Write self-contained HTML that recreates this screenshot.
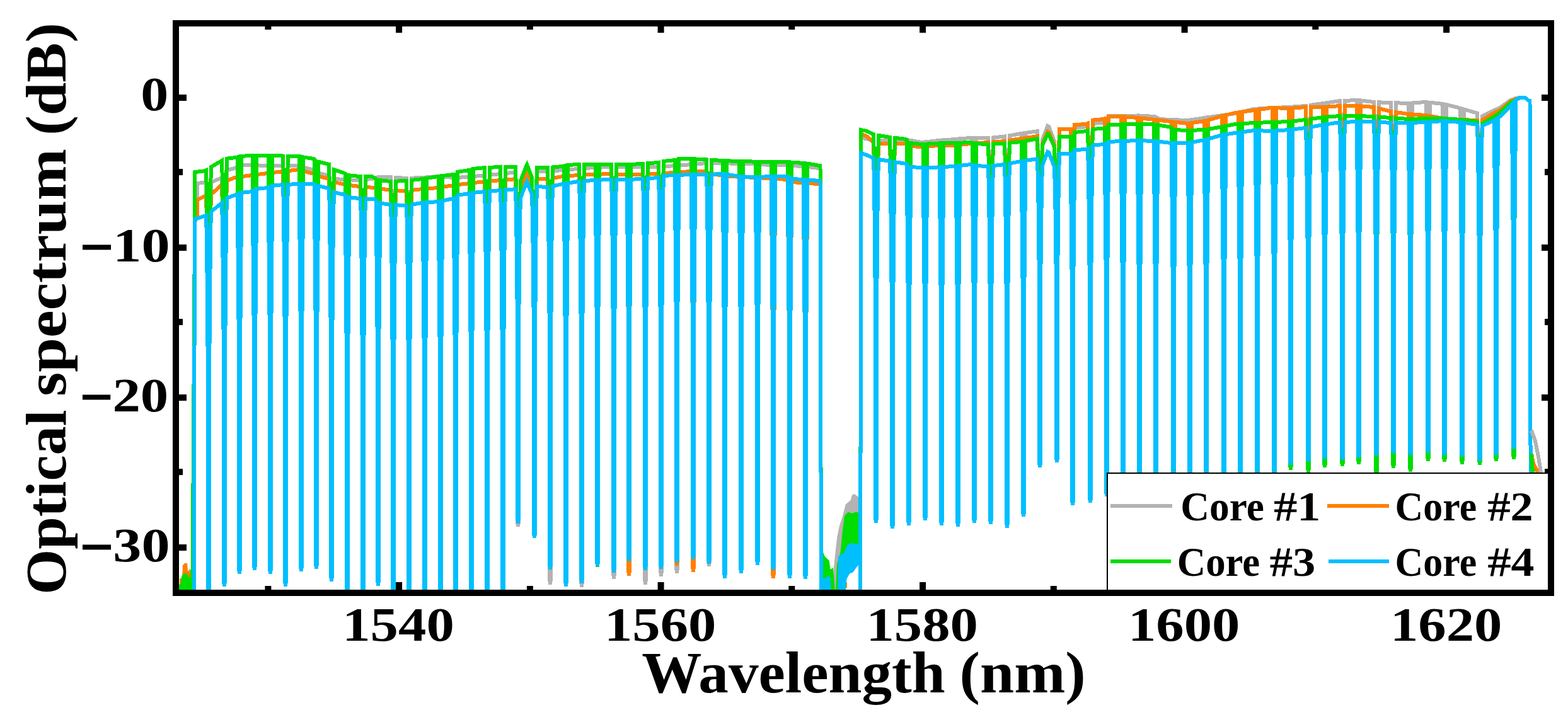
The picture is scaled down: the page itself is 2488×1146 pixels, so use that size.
<!DOCTYPE html>
<html><head><meta charset="utf-8"><title>Optical spectrum</title><style>html,body{margin:0;padding:0;background:#fff;}svg{display:block;}</style></head><body>
<svg width="2488" height="1146" viewBox="0 0 2488 1146">
<rect width="2488" height="1146" fill="#fff"/>
<defs><clipPath id="pc"><rect x="284" y="42" width="2172" height="894"/></clipPath></defs>
<g clip-path="url(#pc)">
<polygon points="1323,940 1323,901 1325.6,876 1328.3,852.7 1331.9,834.8 1337.2,818.7 1341.7,800.8 1349.8,793.7 1351.6,786.5 1355,783.8 1361.4,788.3 1363,792 1363,880 1352,905 1343,918 1341,940" fill="#b3b3b3"/>
<polygon points="299,906 301,902 303,906 303,940 299,940" fill="#b3b3b3"/>
<polygon points="285,940 285,918 289,918 290,897 293,894 297,894 298,906 301,906 303,915 303,940" fill="#ff8000"/>
<polygon points="1342,924 1344,924 1344,933 1342,933" fill="#ff8000"/>
<polygon points="1343,903 1345,903 1345,910 1343,910" fill="#ff8000"/>
<polygon points="1360,858 1362,858 1362,864 1360,864" fill="#ff8000"/>
<polygon points="284,940 284,928 287,926 288,915 290,912 293,910 296,910 298,913 301,917 304,920 304,940" fill="#00dd00"/>
<polygon points="1304,940 1304,876 1306,876 1308.6,883 1315.8,890 1317.6,903.7 1322,901 1323,912 1325,940" fill="#00dd00"/>
<polygon points="1326,940 1328,895.6 1332,883 1333.7,876 1336.4,847 1340,818.7 1346,812.5 1351.6,815 1358.7,812.5 1363,814 1363,880 1352,905 1343,918 1341,940" fill="#00dd00"/>
<polygon points="1304,940 1304,919 1306.8,919 1315.8,913.5 1317.6,919 1319,940" fill="#00bfff"/>
<polygon points="1329,940 1330,883 1339,877.7 1344.4,865 1351.6,861.6 1358.7,863.4 1364,865 1366,892 1358.7,901 1353,909 1348,910 1343.5,919 1341.7,940" fill="#00bfff"/>
<g fill="none" stroke-width="6.0" stroke-linejoin="miter" stroke-miterlimit="3" shape-rendering="crispEdges">
<path d="M307.5,975.0 L309.0,352.0 L313.0,345.0 L313.0,290.8 L315.0,290.6 L317.0,290.5 L319.0,290.4 L321.0,290.3 L323.0,290.2 L325.0,290.1 L326.8,289.9 L327.7,313.9 L328.0,378.4 L328.8,392.0 L329.0,501.0 L329.8,521.5 L330.0,960.8 L331.0,971.0 L332.0,960.8 L332.2,520.5 L333.0,500.1 L333.2,390.8 L334.0,377.2 L334.3,312.5 L335.2,288.5 L337.2,288.1 L339.2,287.5 L341.2,286.6 L343.2,285.8 L345.2,284.9 L347.2,284.1 L349.2,283.2 L351.2,282.3 L351.8,282.1 L352.7,306.1 L353.0,365.9 L353.8,378.8 L354.0,482.0 L354.8,501.4 L355.0,917.3 L356.0,927.0 L357.0,917.2 L357.2,494.8 L358.0,475.2 L358.2,370.4 L359.0,357.3 L359.3,296.2 L360.2,272.2 L362.2,269.9 L364.2,269.3 L366.2,268.7 L368.2,268.1 L370.2,267.5 L372.2,266.9 L374.2,266.2 L376.7,265.3 L376.7,289.3 L377.0,348.7 L377.8,361.6 L378.0,464.2 L378.8,483.5 L379.0,897.4 L380.0,907.0 L381.0,897.3 L381.2,481.9 L382.0,462.6 L382.2,359.6 L383.0,346.7 L383.3,287.0 L383.3,263.0 L385.3,262.2 L387.3,262.0 L389.3,262.0 L391.3,262.0 L393.3,262.0 L395.3,262.0 L397.3,262.0 L399.3,262.0 L400.7,262.0 L400.7,286.0 L401.0,345.1 L401.8,357.9 L402.0,460.1 L402.8,479.3 L403.0,891.4 L404.0,901.0 L405.0,891.4 L405.2,479.5 L406.0,460.3 L406.2,358.1 L407.0,345.3 L407.3,286.3 L407.3,262.3 L409.3,262.4 L411.3,262.5 L413.3,262.5 L415.3,262.6 L417.3,262.7 L419.3,262.8 L421.3,262.9 L423.3,262.9 L425.7,263.0 L425.7,287.0 L426.0,346.7 L426.8,359.6 L427.0,462.6 L427.8,482.0 L428.0,897.3 L429.0,907.0 L430.0,897.3 L430.2,482.0 L431.0,462.6 L431.2,359.6 L432.0,346.7 L432.3,287.0 L432.3,263.0 L434.3,263.0 L436.3,263.0 L438.3,263.0 L440.3,263.0 L442.3,263.0 L444.3,263.0 L446.3,263.0 L448.8,263.0 L449.7,287.0 L450.0,349.3 L450.8,362.6 L451.0,468.8 L451.8,488.8 L452.0,917.0 L453.0,927.0 L454.0,917.0 L454.2,488.8 L455.0,468.8 L455.2,362.6 L456.0,349.3 L456.3,287.0 L457.2,263.0 L459.2,263.0 L461.2,263.0 L463.2,263.0 L465.2,263.0 L467.2,263.0 L469.2,263.0 L471.2,263.0 L473.2,263.0 L474.7,263.0 L474.7,287.0 L475.0,346.2 L475.8,359.0 L476.0,461.4 L476.8,480.6 L477.0,893.4 L478.0,903.0 L479.0,893.4 L479.2,482.2 L480.0,463.0 L480.2,361.0 L481.0,348.3 L481.3,289.4 L481.3,265.4 L483.3,266.1 L485.3,266.6 L487.3,267.1 L489.3,267.7 L491.3,268.2 L493.3,268.7 L495.3,269.3 L497.3,269.8 L498.7,270.4 L498.7,294.4 L499.0,352.1 L499.8,364.7 L500.0,465.3 L500.8,484.1 L501.0,889.6 L502.0,899.0 L503.0,889.6 L503.2,486.5 L504.0,467.8 L504.2,367.8 L505.0,355.3 L505.3,298.1 L505.3,274.1 L507.3,275.1 L509.3,275.6 L511.3,276.1 L513.3,276.7 L515.3,277.2 L517.3,277.7 L519.3,278.3 L521.8,278.9 L522.7,302.9 L523.0,362.2 L523.8,375.0 L524.0,477.4 L524.8,496.6 L525.0,909.4 L526.0,919.0 L527.0,909.5 L527.2,499.6 L528.0,480.5 L528.2,378.9 L529.0,366.2 L529.3,307.6 L530.2,283.6 L532.2,284.1 L534.2,284.2 L536.2,284.3 L538.2,284.4 L540.2,284.6 L542.2,284.7 L544.2,284.8 L546.2,284.9 L547.7,285.0 L547.7,309.0 L548.0,374.2 L548.8,387.9 L549.0,497.7 L549.8,518.3 L550.0,960.7 L551.0,971.0 L552.0,960.7 L552.2,518.4 L553.0,497.9 L553.2,388.2 L554.0,374.5 L554.3,309.3 L554.3,285.3 L556.3,285.4 L558.3,285.5 L560.3,285.6 L562.3,285.7 L564.3,285.8 L566.3,285.8 L568.3,285.9 L570.3,286.0 L571.8,285.8 L572.7,309.8 L573.0,374.9 L573.8,388.6 L574.0,498.2 L574.8,518.8 L575.0,960.7 L576.0,971.0 L577.0,960.7 L577.2,518.2 L578.0,497.6 L578.2,387.9 L579.0,374.2 L579.3,309.0 L580.2,285.0 L582.2,284.8 L584.2,284.6 L586.2,284.4 L588.2,284.2 L590.2,283.9 L592.2,283.3 L594.2,282.7 L596.7,282.0 L596.7,306.0 L597.0,365.6 L597.8,378.5 L598.0,481.5 L598.8,500.8 L599.0,915.8 L600.0,925.5 L601.0,915.8 L601.2,500.1 L602.0,480.8 L602.2,377.7 L603.0,364.8 L603.3,305.0 L603.3,281.0 L605.3,281.0 L607.3,281.0 L609.3,281.0 L611.3,281.0 L613.3,281.0 L615.3,281.0 L617.3,281.0 L619.8,281.0 L620.7,305.0 L621.0,370.7 L621.8,384.5 L622.0,494.9 L622.8,515.6 L623.0,960.6 L624.0,971.0 L625.0,960.7 L625.2,516.0 L626.0,495.4 L626.2,385.1 L627.0,371.3 L627.3,305.7 L628.2,281.7 L630.2,281.8 L632.2,282.0 L634.2,282.1 L636.2,282.3 L638.2,282.5 L640.2,282.6 L642.2,282.8 L644.2,282.9 L644.8,283.0 L645.7,307.0 L646.0,372.4 L646.8,386.2 L647.0,496.3 L647.8,516.9 L648.0,960.7 L649.0,971.0 L650.0,960.7 L650.2,516.7 L651.0,496.1 L651.2,385.9 L652.0,372.2 L652.3,306.7 L653.2,282.7 L655.2,282.6 L657.2,282.5 L659.2,282.4 L661.2,282.4 L663.2,282.3 L665.2,282.2 L667.2,282.1 L669.2,282.0 L670.7,281.9 L670.7,305.9 L671.0,371.5 L671.8,385.3 L672.0,495.6 L672.8,516.2 L673.0,960.7 L674.0,971.0 L675.0,960.7 L675.2,515.9 L676.0,495.2 L676.2,384.9 L677.0,371.1 L677.3,305.4 L677.3,281.4 L679.3,281.3 L681.3,281.1 L683.3,280.9 L685.3,280.8 L687.3,280.6 L689.3,280.5 L691.3,280.3 L693.3,280.1 L695.7,280.1 L695.7,304.1 L696.0,369.9 L696.8,383.7 L697.0,494.2 L697.8,515.0 L698.0,960.6 L699.0,971.0 L700.0,960.6 L700.2,515.3 L701.0,494.6 L701.2,384.1 L702.0,370.3 L702.3,304.6 L702.3,280.6 L704.3,280.7 L706.3,280.9 L708.3,281.1 L710.3,281.2 L712.3,281.4 L714.3,281.5 L716.3,281.7 L718.3,281.9 L719.7,282.0 L719.7,306.0 L720.0,371.5 L720.8,385.3 L721.0,495.6 L721.8,516.2 L722.0,960.7 L723.0,971.0 L724.0,960.7 L724.2,516.1 L725.0,495.4 L725.2,385.1 L726.0,371.4 L726.3,305.7 L726.3,281.7 L728.3,281.7 L730.3,281.6 L732.3,281.5 L734.3,281.4 L736.3,281.3 L738.3,281.3 L740.3,281.2 L742.3,281.1 L744.7,281.0 L744.7,305.0 L745.0,370.7 L745.8,384.5 L746.0,494.9 L746.8,515.6 L747.0,960.7 L748.0,971.0 L749.0,960.6 L749.2,515.1 L750.0,494.4 L750.2,383.9 L751.0,370.0 L751.3,304.2 L751.3,280.2 L753.3,280.0 L755.3,279.8 L757.3,279.5 L759.3,279.3 L761.3,279.0 L763.3,278.8 L765.3,278.6 L767.3,278.3 L768.8,278.1 L769.7,302.1 L770.0,368.2 L770.8,382.1 L771.0,492.9 L771.8,513.7 L772.0,960.6 L773.0,971.0 L774.0,960.6 L774.2,513.2 L775.0,492.4 L775.2,381.5 L776.0,367.6 L776.3,301.4 L777.2,277.4 L779.2,277.3 L781.2,277.1 L783.2,276.9 L785.2,276.8 L787.2,276.6 L789.2,276.5 L791.2,276.3 L793.2,276.1 L793.8,276.1 L794.7,300.1 L795.0,366.4 L795.8,380.3 L796.0,491.5 L796.8,512.4 L797.0,960.6 L798.0,971.0 L799.0,960.6 L799.2,511.7 L800.0,490.9 L800.2,379.5 L801.0,365.6 L801.3,299.1 L802.2,275.1 L804.2,274.9 L806.2,274.7 L808.2,274.4 L810.2,274.2 L812.2,273.9 L814.2,273.7 L816.2,273.5 L817.8,273.3 L818.7,297.3 L819.0,346.4 L819.8,357.7 L820.0,447.7 L820.8,464.6 L821.0,827.6 L822.0,836.0 L823.0,827.8 L823.2,476.6 L824.0,460.3 L824.2,373.2 L825.0,362.3 L825.3,315.5 L826.2,291.5 L828.2,286.7 L830.2,281.9 L832.2,277.1 L834.2,272.3 L836.2,268.5 L838.2,273.3 L840.2,278.1 L842.2,282.9 L843.8,286.7 L844.7,310.7 L845.0,359.9 L845.8,371.2 L846.0,461.3 L846.8,478.2 L847.0,841.6 L848.0,850.0 L849.0,841.3 L849.2,468.8 L850.0,451.4 L850.2,359.0 L851.0,347.4 L851.3,296.4 L852.2,272.4 L854.2,272.3 L856.2,272.3 L858.2,272.2 L860.2,272.2 L862.2,272.2 L864.2,272.1 L866.2,272.1 L868.2,272.0 L868.8,272.0 L869.7,296.0 L870.0,357.3 L870.8,370.4 L871.0,475.4 L871.8,495.1 L872.0,918.2 L873.0,928.0 L874.0,918.2 L874.2,494.6 L875.0,474.9 L875.2,369.9 L876.0,356.7 L876.3,295.4 L877.2,271.4 L879.2,271.2 L881.2,271.0 L883.2,270.9 L885.2,270.7 L887.2,270.5 L889.2,270.3 L891.2,270.2 L893.2,270.0 L894.7,269.9 L894.7,293.9 L895.0,355.3 L895.8,368.4 L896.0,473.6 L896.8,493.3 L897.0,917.1 L898.0,927.0 L899.0,917.1 L899.2,492.9 L900.0,473.2 L900.2,368.0 L901.0,354.8 L901.3,293.3 L901.3,269.3 L903.3,269.2 L905.3,269.0 L907.3,268.9 L909.3,268.7 L911.3,268.5 L913.3,268.4 L915.3,268.2 L917.3,268.1 L918.8,267.9 L919.7,291.9 L920.0,354.3 L920.8,367.5 L921.0,473.8 L921.8,493.7 L922.0,922.0 L923.0,932.0 L924.0,922.0 L924.2,493.3 L925.0,473.3 L925.2,366.9 L926.0,353.7 L926.3,291.2 L927.2,267.2 L929.2,267.1 L931.2,266.9 L933.2,266.7 L935.2,266.6 L937.2,266.4 L939.2,266.2 L941.2,266.1 L943.2,266.0 L944.7,265.9 L944.7,289.9 L945.0,347.7 L945.8,360.3 L946.0,460.9 L946.8,479.8 L947.0,885.6 L948.0,895.0 L949.0,885.6 L949.2,479.6 L950.0,460.7 L950.2,360.0 L951.0,347.5 L951.3,289.6 L951.3,265.6 L953.3,265.6 L955.3,265.5 L957.3,265.4 L959.3,265.3 L961.3,265.3 L963.3,265.2 L965.3,265.1 L967.3,265.0 L969.8,265.0 L970.7,289.0 L971.0,350.0 L971.8,363.1 L972.0,467.7 L972.8,487.4 L973.0,909.2 L974.0,919.0 L975.0,909.2 L975.2,487.4 L976.0,467.7 L976.2,363.1 L977.0,350.0 L977.3,289.0 L978.2,265.0 L980.2,265.0 L982.2,265.0 L984.2,265.0 L986.2,265.0 L988.2,265.0 L990.2,265.0 L992.2,265.0 L994.7,265.0 L994.7,289.0 L995.0,345.9 L995.8,358.3 L996.0,457.8 L996.8,476.5 L997.0,877.7 L998.0,887.0 L999.0,877.7 L999.2,476.5 L1000.0,457.8 L1000.2,358.3 L1001.0,345.9 L1001.3,289.0 L1001.3,265.0 L1003.3,265.0 L1005.3,265.0 L1007.3,265.0 L1009.3,265.0 L1011.3,265.0 L1013.3,265.0 L1015.3,265.0 L1017.3,265.0 L1019.8,265.0 L1020.7,289.0 L1021.0,351.2 L1021.8,364.4 L1022.0,470.5 L1022.8,490.4 L1023.0,918.1 L1024.0,928.0 L1025.0,918.1 L1025.2,490.4 L1026.0,470.5 L1026.2,364.4 L1027.0,351.2 L1027.3,289.0 L1028.2,265.0 L1030.2,265.0 L1032.2,265.0 L1034.2,265.0 L1036.2,265.0 L1038.2,265.0 L1040.2,265.0 L1042.2,265.0 L1044.2,265.0 L1044.8,265.0 L1045.7,289.0 L1046.0,349.5 L1046.8,362.5 L1047.0,466.5 L1047.8,486.0 L1048.0,905.2 L1049.0,915.0 L1050.0,905.2 L1050.2,485.6 L1051.0,466.1 L1051.2,362.0 L1052.0,349.0 L1052.3,288.4 L1053.2,264.4 L1055.2,264.2 L1057.2,264.1 L1059.2,263.9 L1061.2,263.8 L1063.2,263.7 L1065.2,263.5 L1067.2,263.4 L1069.2,263.2 L1070.7,263.1 L1070.7,287.1 L1071.0,347.1 L1071.8,360.1 L1072.0,463.5 L1072.8,482.9 L1073.0,899.8 L1074.0,909.5 L1075.0,899.8 L1075.2,482.5 L1076.0,463.1 L1076.2,359.6 L1077.0,346.7 L1077.3,286.6 L1077.3,262.6 L1079.3,262.4 L1081.3,262.3 L1083.3,262.1 L1085.3,261.9 L1087.3,261.8 L1089.3,261.6 L1091.3,261.5 L1093.3,261.3 L1095.3,261.1 L1096.7,261.0 L1096.7,285.0 L1097.0,342.0 L1097.8,354.5 L1098.0,454.1 L1098.8,472.8 L1099.0,874.7 L1100.0,884.0 L1101.0,874.6 L1101.2,472.5 L1102.0,453.8 L1102.2,354.0 L1103.0,341.6 L1103.3,284.5 L1103.3,260.5 L1105.3,260.3 L1107.3,260.2 L1109.3,260.0 L1111.3,259.9 L1113.3,259.7 L1115.3,259.5 L1117.3,259.4 L1119.3,259.2 L1120.8,259.1 L1121.7,283.1 L1122.0,342.3 L1122.8,355.1 L1123.0,457.5 L1123.8,476.7 L1124.0,889.5 L1125.0,899.1 L1126.0,889.5 L1126.2,476.6 L1127.0,457.4 L1127.2,355.0 L1128.0,342.2 L1128.3,283.0 L1129.2,259.0 L1131.2,259.0 L1133.2,259.0 L1135.2,259.0 L1137.2,259.0 L1139.2,259.0 L1141.2,259.0 L1143.2,259.0 L1145.2,259.0 L1146.7,259.0 L1146.7,283.0 L1147.0,344.1 L1147.8,357.2 L1148.0,462.1 L1148.8,481.7 L1149.0,904.2 L1150.0,914.0 L1151.0,904.2 L1151.2,481.9 L1152.0,462.2 L1152.2,357.5 L1153.0,344.4 L1153.3,283.2 L1153.3,259.2 L1155.3,259.3 L1157.3,259.4 L1159.3,259.5 L1161.3,259.6 L1163.3,259.7 L1165.3,259.8 L1167.3,259.9 L1169.3,260.0 L1171.3,260.0 L1172.7,260.0 L1172.7,284.0 L1173.0,343.9 L1173.8,356.8 L1174.0,460.1 L1174.8,479.5 L1175.0,895.9 L1176.0,905.6 L1177.0,895.9 L1177.2,479.5 L1178.0,460.1 L1178.2,356.8 L1179.0,343.9 L1179.3,284.0 L1179.3,260.0 L1181.3,260.0 L1183.3,260.0 L1185.3,260.0 L1187.3,260.0 L1189.3,260.0 L1191.3,260.0 L1193.3,260.0 L1195.3,260.0 L1197.3,260.2 L1198.7,260.3 L1198.7,284.3 L1199.0,342.5 L1199.8,355.1 L1200.0,456.3 L1200.8,475.3 L1201.0,883.2 L1202.0,892.7 L1203.0,883.2 L1203.2,475.6 L1204.0,456.7 L1204.2,355.6 L1205.0,342.9 L1205.3,284.8 L1205.3,260.8 L1207.3,260.9 L1209.3,261.1 L1211.3,261.2 L1213.3,261.4 L1215.3,261.5 L1217.3,261.7 L1219.3,261.8 L1221.3,261.9 L1223.7,262.0 L1223.7,286.0 L1224.0,345.1 L1224.8,357.9 L1225.0,460.1 L1225.8,479.3 L1226.0,891.4 L1227.0,901.0 L1228.0,891.4 L1228.2,479.3 L1229.0,460.1 L1229.2,357.9 L1230.0,345.1 L1230.3,286.0 L1230.3,262.0 L1232.3,262.0 L1234.3,262.0 L1236.3,262.0 L1238.3,262.0 L1240.3,262.0 L1242.3,262.0 L1244.3,262.0 L1246.3,262.0 L1248.3,262.0 L1249.7,262.1 L1249.7,286.1 L1250.0,346.9 L1250.8,359.9 L1251.0,464.2 L1251.8,483.8 L1252.0,904.2 L1253.0,914.0 L1254.0,904.2 L1254.2,484.2 L1255.0,464.6 L1255.2,360.4 L1256.0,347.4 L1256.3,286.7 L1256.3,262.7 L1258.3,262.9 L1260.3,263.1 L1262.3,263.3 L1264.3,263.4 L1266.3,263.6 L1268.3,263.8 L1270.3,264.0 L1272.3,264.1 L1274.7,264.4 L1274.7,288.4 L1275.0,348.9 L1275.8,362.0 L1276.0,466.1 L1276.8,485.6 L1277.0,905.2 L1278.0,915.0 L1279.0,905.2 L1279.2,486.0 L1280.0,466.5 L1280.2,362.4 L1281.0,349.4 L1281.3,288.9 L1281.3,264.9 L1283.3,265.1 L1285.3,265.4 L1287.3,265.6 L1289.3,265.8 L1291.3,266.0 L1293.3,266.3 L1295.3,266.5 L1297.3,266.7 L1299.3,266.9 L1301.3,267.0 L1301.5,267.0 L1303.0,975.0 M1365.0,975.0 L1366.5,218.1 L1368.5,218.7 L1370.5,219.2 L1372.5,219.7 L1374.5,220.2 L1376.5,220.8 L1378.5,221.3 L1380.5,221.8 L1382.5,222.3 L1384.5,222.9 L1385.8,223.0 L1386.7,247.0 L1387.0,301.3 L1387.8,313.4 L1388.0,409.8 L1388.8,427.9 L1389.0,816.7 L1390.0,825.7 L1391.0,816.7 L1391.2,427.8 L1392.0,409.7 L1392.2,313.3 L1393.0,301.2 L1393.3,246.8 L1394.2,222.8 L1396.2,222.8 L1398.2,222.8 L1400.2,222.7 L1402.2,222.7 L1404.2,222.7 L1406.2,222.6 L1408.2,222.6 L1410.2,222.5 L1411.8,222.5 L1412.7,246.5 L1413.0,302.1 L1413.8,314.4 L1414.0,412.4 L1414.8,430.8 L1415.0,825.8 L1416.0,835.0 L1417.0,825.8 L1417.2,430.7 L1418.0,412.3 L1418.2,314.3 L1419.0,302.0 L1419.3,246.4 L1420.2,222.4 L1422.2,222.3 L1424.2,222.3 L1426.2,222.3 L1428.2,222.2 L1430.2,222.2 L1432.2,222.1 L1434.2,222.1 L1436.2,222.1 L1438.7,222.0 L1438.7,246.0 L1439.0,301.0 L1439.8,313.1 L1440.0,410.3 L1440.8,428.6 L1441.0,820.4 L1442.0,829.5 L1443.0,820.4 L1443.2,429.2 L1444.0,411.0 L1444.2,313.9 L1445.0,301.8 L1445.3,247.0 L1445.3,223.0 L1447.3,223.3 L1449.3,223.7 L1451.3,224.1 L1453.3,224.4 L1455.3,224.8 L1457.3,225.1 L1459.3,225.5 L1461.3,225.9 L1463.3,225.9 L1464.7,225.7 L1464.7,249.7 L1465.0,303.2 L1465.8,315.2 L1466.0,410.6 L1466.8,428.4 L1467.0,813.1 L1468.0,822.0 L1469.0,813.0 L1469.2,428.0 L1470.0,410.1 L1470.2,314.6 L1471.0,302.6 L1471.3,249.0 L1471.3,225.0 L1473.3,224.8 L1475.3,224.6 L1477.3,224.4 L1479.3,224.1 L1481.3,223.9 L1483.3,223.7 L1485.3,223.5 L1487.3,223.3 L1489.3,223.1 L1490.7,222.9 L1490.7,246.9 L1491.0,301.8 L1491.8,313.9 L1492.0,411.0 L1492.8,429.2 L1493.0,820.4 L1494.0,829.5 L1495.0,820.4 L1495.2,428.8 L1496.0,410.6 L1496.2,313.5 L1497.0,301.3 L1497.3,246.4 L1497.3,222.4 L1499.3,222.3 L1501.3,222.1 L1503.3,221.9 L1505.3,221.8 L1507.3,221.6 L1509.3,221.5 L1511.3,221.3 L1513.3,221.1 L1515.3,221.0 L1516.7,220.9 L1516.7,244.9 L1517.0,300.2 L1517.8,312.5 L1518.0,410.2 L1518.8,428.5 L1519.0,822.3 L1520.0,831.5 L1521.0,822.3 L1521.2,428.1 L1522.0,409.8 L1522.2,312.0 L1523.0,299.8 L1523.3,244.3 L1523.3,220.3 L1525.3,220.2 L1527.3,220.0 L1529.3,219.9 L1531.3,219.7 L1533.3,219.5 L1535.3,219.4 L1537.3,219.2 L1539.3,219.1 L1541.3,219.0 L1542.7,219.0 L1542.7,243.0 L1543.0,297.9 L1543.8,310.1 L1544.0,407.2 L1544.8,425.4 L1545.0,816.9 L1546.0,826.0 L1547.0,816.9 L1547.2,425.4 L1548.0,407.2 L1548.2,310.1 L1549.0,297.9 L1549.3,243.0 L1549.3,219.0 L1551.3,219.0 L1553.3,219.0 L1555.3,219.0 L1557.3,219.0 L1559.3,219.0 L1561.3,219.0 L1563.3,219.0 L1565.3,219.0 L1567.8,219.0 L1568.7,243.0 L1569.0,298.1 L1569.8,310.3 L1570.0,407.7 L1570.8,425.9 L1571.0,818.5 L1572.0,827.6 L1573.0,818.5 L1573.2,425.5 L1574.0,407.2 L1574.2,309.8 L1575.0,297.6 L1575.3,242.4 L1576.2,218.4 L1578.2,218.2 L1580.2,218.0 L1582.2,217.8 L1584.2,217.6 L1586.2,217.4 L1588.2,217.2 L1590.2,217.0 L1592.2,216.8 L1593.8,216.6 L1594.7,240.6 L1595.0,296.8 L1595.8,309.1 L1596.0,407.8 L1596.8,426.3 L1597.0,824.1 L1598.0,833.4 L1599.0,824.1 L1599.2,425.4 L1600.0,406.8 L1600.2,307.9 L1601.0,295.6 L1601.3,239.2 L1602.2,215.2 L1604.2,214.8 L1606.2,214.5 L1608.2,214.1 L1610.2,213.8 L1612.2,213.4 L1614.2,213.0 L1616.2,212.7 L1618.2,212.3 L1620.7,211.9 L1620.7,235.9 L1621.0,290.4 L1621.8,302.5 L1622.0,399.2 L1622.8,417.3 L1623.0,806.9 L1624.0,816.0 L1625.0,806.9 L1625.2,416.7 L1626.0,398.5 L1626.2,301.7 L1627.0,289.6 L1627.3,235.0 L1627.3,211.0 L1629.3,210.7 L1631.3,210.4 L1633.3,210.1 L1635.3,209.8 L1637.3,209.5 L1639.3,209.2 L1641.3,209.0 L1643.3,208.7 L1645.8,208.3 L1646.7,232.3 L1647.0,277.1 L1647.8,287.7 L1648.0,372.3 L1648.8,388.2 L1649.0,729.5 L1650.0,737.4 L1651.0,729.7 L1651.2,396.5 L1652.0,381.0 L1652.2,298.4 L1653.0,288.0 L1653.3,244.9 L1654.2,220.9 L1656.2,215.7 L1658.2,210.5 L1660.2,205.3 L1662.2,200.1 L1664.2,201.1 L1666.2,206.3 L1668.2,211.5 L1670.2,216.7 L1672.2,221.9 L1672.8,223.5 L1673.7,247.5 L1674.0,289.3 L1674.8,299.4 L1675.0,380.4 L1675.8,395.6 L1676.0,722.1 L1677.0,729.7 L1678.0,721.8 L1678.2,383.4 L1679.0,367.7 L1679.2,283.7 L1680.0,273.2 L1680.3,229.0 L1681.2,205.0 L1683.2,205.0 L1685.2,205.0 L1687.2,205.0 L1689.2,205.0 L1691.2,205.0 L1693.2,205.0 L1695.2,205.0 L1697.2,205.0 L1698.7,205.0 L1698.7,229.0 L1699.0,282.1 L1699.8,293.9 L1700.0,388.8 L1700.8,406.6 L1701.0,789.1 L1702.0,798.0 L1703.0,789.1 L1703.2,405.3 L1704.0,387.4 L1704.2,292.2 L1705.0,280.3 L1705.3,227.0 L1705.3,203.0 L1707.3,202.8 L1709.3,202.6 L1711.3,202.4 L1713.3,202.2 L1715.3,202.0 L1717.3,201.8 L1719.3,201.6 L1721.3,201.4 L1723.3,201.2 L1725.8,200.2 L1726.7,224.2 L1727.0,277.4 L1727.8,289.3 L1728.0,384.3 L1728.8,402.1 L1729.0,785.1 L1730.0,794.0 L1731.0,785.0 L1731.2,399.2 L1732.0,381.2 L1732.2,285.5 L1733.0,273.6 L1733.3,219.8 L1734.2,195.8 L1736.2,195.7 L1738.2,195.6 L1740.2,195.5 L1742.2,195.4 L1744.2,195.4 L1746.2,195.3 L1748.2,195.2 L1750.2,195.1 L1752.7,193.7 L1752.7,217.7 L1753.0,270.4 L1753.8,282.2 L1754.0,376.5 L1754.8,394.2 L1755.0,774.7 L1756.0,783.5 L1757.0,774.5 L1757.2,387.8 L1758.0,369.8 L1758.2,273.9 L1759.0,261.9 L1759.3,208.0 L1759.3,184.0 L1761.3,184.0 L1763.3,184.0 L1765.3,184.0 L1767.3,184.0 L1769.3,184.0 L1771.3,184.0 L1773.3,184.0 L1775.3,184.0 L1777.3,184.0 L1778.7,184.0 L1778.7,208.0 L1779.0,264.9 L1779.8,277.3 L1780.0,376.8 L1780.8,395.5 L1781.0,796.7 L1782.0,806.0 L1783.0,796.7 L1783.2,395.4 L1784.0,376.7 L1784.2,277.2 L1785.0,264.8 L1785.3,207.9 L1785.3,183.9 L1787.3,183.9 L1789.3,183.8 L1791.3,183.8 L1793.3,183.7 L1795.3,183.7 L1797.3,183.7 L1799.3,183.6 L1801.3,183.6 L1803.3,183.6 L1804.7,183.5 L1804.7,207.5 L1805.0,265.7 L1805.8,278.4 L1806.0,379.6 L1806.8,398.6 L1807.0,806.5 L1808.0,816.0 L1809.0,806.5 L1809.2,398.7 L1810.0,379.8 L1810.2,278.6 L1811.0,266.0 L1811.3,207.8 L1811.3,183.8 L1813.3,183.9 L1815.3,184.0 L1817.3,184.1 L1819.3,184.2 L1821.3,184.3 L1823.3,184.5 L1825.3,184.6 L1827.3,184.7 L1829.3,184.8 L1830.7,184.9 L1830.7,208.9 L1831.0,266.3 L1831.8,278.8 L1832.0,379.0 L1832.8,397.8 L1833.0,801.6 L1834.0,811.0 L1835.0,801.6 L1835.2,399.5 L1836.0,380.8 L1836.2,281.0 L1837.0,268.5 L1837.3,211.5 L1837.3,187.5 L1839.3,188.6 L1841.3,189.1 L1843.3,189.2 L1845.3,189.3 L1847.3,189.4 L1849.3,189.5 L1851.3,189.6 L1853.3,189.7 L1855.3,189.8 L1857.3,190.0 L1858.7,190.0 L1858.7,214.0 L1859.0,272.1 L1859.8,284.7 L1860.0,385.6 L1860.8,404.6 L1861.0,811.5 L1862.0,821.0 L1863.0,811.5 L1863.2,404.7 L1864.0,385.8 L1864.2,284.9 L1865.0,272.3 L1865.3,214.3 L1865.3,190.3 L1867.3,190.3 L1869.3,190.4 L1871.3,190.5 L1873.3,190.6 L1875.3,190.6 L1877.3,190.7 L1879.3,190.8 L1881.3,190.9 L1883.3,190.9 L1884.7,191.0 L1884.7,215.0 L1885.0,272.0 L1885.8,284.4 L1886.0,384.1 L1886.8,402.8 L1887.0,804.7 L1888.0,814.0 L1889.0,804.6 L1889.2,402.2 L1890.0,383.5 L1890.2,283.7 L1891.0,271.2 L1891.3,214.1 L1891.3,190.1 L1893.3,189.8 L1895.3,189.5 L1897.3,189.2 L1899.3,188.9 L1901.3,188.6 L1903.3,188.3 L1905.3,188.0 L1907.3,187.7 L1909.3,187.4 L1910.7,187.2 L1910.7,211.2 L1911.0,269.2 L1911.8,281.8 L1912.0,382.7 L1912.8,401.7 L1913.0,808.5 L1914.0,818.0 L1915.0,808.5 L1915.2,401.0 L1916.0,382.1 L1916.2,281.0 L1917.0,268.4 L1917.3,210.2 L1917.3,186.2 L1919.3,186.0 L1921.3,185.7 L1923.3,185.4 L1925.3,185.1 L1927.3,184.8 L1929.3,184.5 L1931.3,184.2 L1933.3,184.0 L1935.3,183.7 L1937.3,183.4 L1938.7,183.2 L1938.7,207.2 L1939.0,264.8 L1939.8,277.4 L1940.0,377.8 L1940.8,396.6 L1941.0,801.6 L1942.0,811.0 L1943.0,801.6 L1943.2,396.0 L1944.0,377.1 L1944.2,276.5 L1945.0,263.9 L1945.3,206.2 L1945.3,182.2 L1947.3,181.9 L1949.3,181.6 L1951.3,181.3 L1953.3,181.0 L1955.3,180.7 L1957.3,180.4 L1959.3,180.1 L1961.3,179.7 L1963.3,179.2 L1964.7,178.9 L1964.7,202.9 L1965.0,261.7 L1965.8,274.5 L1966.0,376.4 L1966.8,395.5 L1967.0,806.4 L1968.0,816.0 L1969.0,806.4 L1969.2,394.5 L1970.0,375.3 L1970.2,273.2 L1971.0,260.4 L1971.3,201.4 L1971.3,177.4 L1973.3,176.9 L1975.3,176.4 L1977.3,176.0 L1979.3,175.5 L1981.3,175.0 L1983.3,174.6 L1985.3,174.1 L1987.3,173.6 L1989.3,173.2 L1991.7,172.9 L1991.7,196.9 L1992.0,255.4 L1992.8,268.1 L1993.0,369.8 L1993.8,388.8 L1994.0,798.5 L1995.0,808.0 L1996.0,798.5 L1996.2,388.5 L1997.0,369.4 L1997.2,267.7 L1998.0,255.0 L1998.3,196.4 L1998.3,172.4 L2000.3,172.3 L2002.3,172.1 L2004.3,172.0 L2006.3,171.8 L2008.3,171.7 L2010.3,171.6 L2012.3,171.4 L2014.3,171.3 L2016.3,171.1 L2018.7,171.0 L2018.7,195.0 L2019.0,252.2 L2019.8,264.7 L2020.0,364.7 L2020.8,383.5 L2021.0,786.6 L2022.0,796.0 L2023.0,786.6 L2023.2,383.3 L2024.0,364.6 L2024.2,264.5 L2025.0,252.0 L2025.3,194.7 L2025.3,170.7 L2027.3,170.7 L2029.3,170.6 L2031.3,170.5 L2033.3,170.5 L2035.3,170.4 L2037.3,170.3 L2039.3,170.2 L2041.3,170.2 L2043.3,170.1 L2044.7,170.0 L2044.7,194.0 L2045.0,243.3 L2045.8,254.6 L2046.0,344.7 L2046.8,361.6 L2047.0,725.0 L2048.0,733.5 L2049.0,725.0 L2049.2,361.3 L2050.0,344.4 L2050.2,254.2 L2051.0,242.9 L2051.3,193.6 L2051.3,169.6 L2053.3,169.4 L2055.3,169.3 L2057.3,169.1 L2059.3,169.0 L2061.3,168.8 L2063.3,168.7 L2065.3,168.5 L2067.3,168.4 L2069.3,168.2 L2071.8,168.0 L2072.7,192.0 L2073.0,240.9 L2073.8,252.2 L2074.0,341.9 L2074.8,358.8 L2075.0,720.6 L2076.0,729.0 L2077.0,720.6 L2077.2,358.0 L2078.0,341.1 L2078.2,251.2 L2079.0,239.9 L2079.3,190.8 L2080.2,166.8 L2082.2,166.5 L2084.2,166.3 L2086.2,166.0 L2088.2,165.7 L2090.2,165.4 L2092.2,165.1 L2094.2,164.8 L2096.2,164.5 L2098.7,164.2 L2098.7,188.2 L2099.0,237.1 L2099.8,248.3 L2100.0,338.0 L2100.8,354.9 L2101.0,716.6 L2102.0,725.0 L2103.0,716.6 L2103.2,354.2 L2104.0,337.4 L2104.2,247.5 L2105.0,236.2 L2105.3,187.2 L2105.3,163.2 L2107.3,162.9 L2109.3,162.6 L2111.3,162.3 L2113.3,162.0 L2115.3,161.7 L2117.3,161.4 L2119.3,161.1 L2121.3,160.8 L2123.3,160.5 L2125.8,160.2 L2126.7,184.2 L2127.0,233.7 L2127.8,245.1 L2128.0,335.6 L2128.8,352.6 L2129.0,717.5 L2130.0,726.0 L2131.0,717.5 L2131.2,352.3 L2132.0,335.3 L2132.2,244.7 L2133.0,233.4 L2133.3,183.7 L2134.2,159.7 L2136.2,159.7 L2138.2,159.6 L2140.2,159.5 L2142.2,159.5 L2144.2,159.4 L2146.2,159.3 L2148.2,159.2 L2150.2,159.2 L2152.7,159.1 L2152.7,183.1 L2153.0,232.4 L2153.8,243.7 L2154.0,333.9 L2154.8,350.8 L2155.0,714.5 L2156.0,723.0 L2157.0,714.5 L2157.2,351.1 L2158.0,334.2 L2158.2,244.0 L2159.0,232.8 L2159.3,183.5 L2159.3,159.5 L2161.3,159.8 L2163.3,160.0 L2165.3,160.2 L2167.3,160.5 L2169.3,160.7 L2171.3,161.0 L2173.3,161.2 L2175.3,161.4 L2177.3,161.7 L2179.8,162.0 L2180.7,186.0 L2181.0,234.5 L2181.8,245.7 L2182.0,335.0 L2182.8,351.7 L2183.0,711.6 L2184.0,720.0 L2185.0,711.6 L2185.2,351.9 L2186.0,335.2 L2186.2,246.0 L2187.0,234.8 L2187.3,186.3 L2188.2,162.3 L2190.2,162.4 L2192.2,162.5 L2194.2,162.5 L2196.2,162.6 L2198.2,162.7 L2200.2,162.7 L2202.2,162.8 L2204.2,162.9 L2206.2,163.0 L2206.8,163.0 L2207.7,187.0 L2208.0,234.9 L2208.8,245.9 L2209.0,334.4 L2209.8,351.0 L2210.0,707.7 L2211.0,716.0 L2212.0,707.7 L2212.2,351.2 L2213.0,334.6 L2213.2,246.2 L2214.0,235.1 L2214.3,187.3 L2215.2,163.3 L2217.2,163.4 L2219.2,163.4 L2221.2,163.5 L2223.2,163.6 L2225.2,163.7 L2227.2,163.7 L2229.2,163.8 L2231.2,163.9 L2233.2,163.9 L2234.7,164.0 L2234.7,188.0 L2235.0,236.1 L2235.8,247.2 L2236.0,336.0 L2236.8,352.7 L2237.0,710.7 L2238.0,719.0 L2239.0,710.7 L2239.2,352.4 L2240.0,335.7 L2240.2,246.9 L2241.0,235.7 L2241.3,187.5 L2241.3,163.5 L2243.3,163.4 L2245.3,163.2 L2247.3,163.1 L2249.3,162.9 L2251.3,162.8 L2253.3,162.6 L2255.3,162.5 L2257.3,162.3 L2259.3,162.2 L2261.3,162.1 L2262.7,162.1 L2262.7,186.1 L2263.0,233.9 L2263.8,245.0 L2264.0,333.4 L2264.8,349.9 L2265.0,706.3 L2266.0,714.6 L2267.0,706.3 L2267.2,350.4 L2268.0,333.8 L2268.2,245.6 L2269.0,234.5 L2269.3,186.8 L2269.3,162.8 L2271.3,163.0 L2273.3,163.2 L2275.3,163.4 L2277.3,163.6 L2279.3,163.9 L2281.3,164.1 L2283.3,164.3 L2285.3,164.5 L2287.3,164.7 L2288.7,164.9 L2288.7,188.9 L2289.0,236.9 L2289.8,248.0 L2290.0,336.6 L2290.8,353.3 L2291.0,710.7 L2292.0,719.0 L2293.0,710.7 L2293.2,354.2 L2294.0,337.7 L2294.2,249.2 L2295.0,238.2 L2295.3,190.3 L2295.3,166.3 L2297.3,166.8 L2299.3,167.3 L2301.3,167.8 L2303.3,168.3 L2305.3,168.8 L2307.3,169.3 L2309.3,169.8 L2311.3,170.3 L2313.3,170.8 L2315.3,171.3 L2316.7,171.7 L2316.7,195.7 L2317.0,243.0 L2317.8,254.0 L2318.0,341.8 L2318.8,358.2 L2319.0,712.2 L2320.0,720.4 L2321.0,712.2 L2321.2,359.5 L2322.0,343.1 L2322.2,255.6 L2323.0,244.7 L2323.3,197.6 L2323.3,173.6 L2325.3,174.2 L2327.3,174.8 L2329.3,175.3 L2331.3,175.9 L2333.3,176.5 L2335.3,177.1 L2337.3,177.7 L2339.3,178.3 L2341.3,178.9 L2343.8,179.6 L2344.7,203.6 L2345.0,250.9 L2345.8,261.9 L2346.0,349.5 L2346.8,366.0 L2347.0,719.5 L2348.0,727.7 L2349.0,719.6 L2349.2,369.1 L2350.0,352.8 L2350.2,265.9 L2351.0,255.0 L2351.3,208.4 L2352.2,184.4 L2354.2,183.4 L2356.2,182.4 L2358.2,181.4 L2360.2,180.4 L2362.2,179.4 L2364.2,178.4 L2366.2,177.4 L2368.2,176.4 L2370.7,175.2 L2370.7,199.2 L2371.0,245.9 L2371.8,256.7 L2372.0,343.7 L2372.8,360.1 L2373.0,710.8 L2374.0,719.0 L2375.0,710.8 L2375.2,358.1 L2376.0,341.7 L2376.2,254.2 L2377.0,243.3 L2377.3,196.2 L2377.3,172.2 L2379.3,171.3 L2381.3,170.1 L2383.3,168.7 L2385.3,167.3 L2387.3,165.8 L2389.3,164.4 L2391.3,163.0 L2393.3,161.6 L2395.3,160.2 L2397.3,158.9 L2398.7,158.4 L2398.7,182.4 L2399.0,230.0 L2399.8,241.0 L2400.0,329.1 L2400.8,345.6 L2401.0,700.7 L2402.0,709.0 L2403.0,700.7 L2403.2,344.2 L2404.0,327.6 L2404.2,239.1 L2405.0,228.1 L2405.3,180.2 L2405.3,156.2 L2407.3,155.8 L2409.3,155.4 L2411.3,155.1 L2413.3,155.0 L2415.3,155.0 L2417.3,155.0 L2419.3,155.0 L2421.3,156.1 L2423.3,157.8 L2425.3,159.4 L2427.3,160.0 L2427.5,160.0 L2429.0,975.0" stroke="#b3b3b3"/>
<path d="M307.5,975.0 L309.0,352.0 L313.0,345.0 L313.0,317.1 L315.0,316.2 L317.0,315.2 L319.0,314.3 L321.0,313.4 L323.0,312.4 L325.0,311.5 L326.8,310.7 L327.7,334.7 L328.0,396.5 L328.8,409.7 L329.0,515.4 L329.8,535.2 L330.0,961.1 L331.0,971.0 L332.0,961.0 L332.2,532.9 L333.0,513.0 L333.2,406.7 L334.0,393.5 L334.3,331.2 L335.2,307.2 L337.2,306.3 L339.2,304.9 L341.2,303.0 L343.2,301.2 L345.2,299.3 L347.2,297.5 L349.2,295.6 L351.2,293.7 L351.8,293.2 L352.7,317.2 L353.0,375.6 L353.8,388.3 L354.0,489.7 L354.8,508.7 L355.0,917.5 L356.0,927.0 L357.0,917.4 L357.2,504.8 L358.0,485.6 L358.2,383.2 L359.0,370.4 L359.3,311.3 L360.2,287.3 L362.2,285.9 L364.2,285.1 L366.2,284.3 L368.2,283.5 L370.2,282.7 L372.2,282.0 L374.2,281.7 L376.7,281.3 L376.7,305.3 L377.0,362.7 L377.8,375.2 L378.0,475.3 L378.8,494.1 L379.0,897.6 L380.0,907.0 L381.0,897.6 L381.2,493.4 L382.0,474.6 L382.2,374.4 L383.0,361.8 L383.3,304.4 L383.3,280.4 L385.3,280.1 L387.3,279.8 L389.3,279.5 L391.3,279.2 L393.3,279.0 L395.3,278.7 L397.3,278.4 L399.3,278.1 L400.7,277.9 L400.7,301.9 L401.0,358.9 L401.8,371.4 L402.0,471.1 L402.8,489.8 L403.0,891.7 L404.0,901.0 L405.0,891.6 L405.2,489.2 L406.0,470.5 L406.2,370.7 L407.0,358.2 L407.3,301.1 L407.3,277.1 L409.3,276.9 L411.3,276.6 L413.3,276.4 L415.3,276.2 L417.3,275.9 L419.3,275.7 L421.3,275.4 L423.3,275.2 L425.7,274.9 L425.7,298.9 L426.0,357.1 L426.8,369.7 L427.0,470.9 L427.8,489.8 L428.0,897.5 L429.0,907.0 L430.0,897.5 L430.2,489.3 L431.0,470.3 L431.2,369.1 L432.0,356.4 L432.3,298.1 L432.3,274.1 L434.3,273.9 L436.3,273.6 L438.3,273.4 L440.3,273.2 L442.3,272.9 L444.3,272.7 L446.3,272.4 L448.8,272.1 L449.7,296.1 L450.0,357.3 L450.8,370.4 L451.0,475.1 L451.8,494.8 L452.0,917.2 L453.0,927.0 L454.0,917.2 L454.2,494.1 L455.0,474.5 L455.2,369.5 L456.0,356.4 L456.3,295.1 L457.2,271.1 L459.2,270.9 L461.2,270.7 L463.2,270.4 L465.2,270.2 L467.2,269.9 L469.2,269.7 L471.2,269.5 L473.2,269.2 L474.7,269.0 L474.7,293.0 L475.0,351.5 L475.8,364.1 L476.0,465.6 L476.8,484.6 L477.0,893.5 L478.0,903.0 L479.0,893.5 L479.2,486.1 L480.0,467.2 L480.2,366.1 L481.0,353.5 L481.3,295.4 L481.3,271.4 L483.3,272.1 L485.3,272.6 L487.3,273.1 L489.3,273.7 L491.3,274.2 L493.3,274.7 L495.3,275.3 L497.3,275.8 L498.7,276.3 L498.7,300.3 L499.0,357.3 L499.8,369.7 L500.0,469.3 L500.8,488.0 L501.0,889.7 L502.0,899.0 L503.0,889.7 L503.2,490.0 L504.0,471.4 L504.2,372.2 L505.0,359.8 L505.3,303.2 L505.3,279.2 L507.3,280.1 L509.3,280.6 L511.3,281.1 L513.3,281.7 L515.3,282.2 L517.3,282.7 L519.3,283.3 L521.8,283.9 L522.7,307.9 L523.0,366.5 L523.8,379.2 L524.0,480.8 L524.8,499.9 L525.0,909.5 L526.0,919.0 L527.0,909.5 L527.2,502.9 L528.0,484.0 L528.2,383.1 L529.0,370.5 L529.3,312.6 L530.2,288.6 L532.2,289.3 L534.2,289.8 L536.2,290.3 L538.2,290.8 L540.2,291.3 L542.2,291.8 L544.2,292.3 L546.2,292.8 L547.7,293.1 L547.7,317.1 L548.0,381.2 L548.8,394.8 L549.0,503.2 L549.8,523.6 L550.0,960.8 L551.0,971.0 L552.0,960.8 L552.2,524.1 L553.0,503.8 L553.2,395.5 L554.0,382.0 L554.3,318.0 L554.3,294.0 L556.3,294.2 L558.3,294.5 L560.3,294.7 L562.3,295.0 L564.3,295.3 L566.3,295.5 L568.3,295.8 L570.3,296.0 L571.8,296.1 L572.7,320.1 L573.0,383.9 L573.8,397.4 L574.0,505.3 L574.8,525.6 L575.0,960.9 L576.0,971.0 L577.0,960.9 L577.2,526.0 L578.0,505.8 L578.2,397.9 L579.0,384.5 L579.3,320.8 L580.2,296.8 L582.2,297.0 L584.2,297.1 L586.2,297.3 L588.2,297.5 L590.2,297.6 L592.2,297.8 L594.2,297.9 L596.7,298.3 L596.7,322.3 L597.0,379.8 L597.8,392.4 L598.0,492.7 L598.8,511.5 L599.0,916.1 L600.0,925.5 L601.0,916.1 L601.2,512.2 L602.0,493.4 L602.2,393.3 L603.0,380.7 L603.3,323.3 L603.3,299.3 L605.3,299.6 L607.3,300.0 L609.3,300.3 L611.3,300.6 L613.3,300.9 L615.3,301.2 L617.3,301.6 L619.8,302.0 L620.7,326.0 L621.0,388.9 L621.8,402.3 L622.0,509.4 L622.8,529.4 L623.0,961.0 L624.0,971.0 L625.0,961.0 L625.2,529.7 L626.0,509.6 L626.2,402.6 L627.0,389.3 L627.3,326.3 L628.2,302.3 L630.2,302.4 L632.2,302.5 L634.2,302.6 L636.2,302.6 L638.2,302.7 L640.2,302.8 L642.2,302.9 L644.2,303.0 L644.8,303.0 L645.7,327.0 L646.0,389.8 L646.8,403.2 L647.0,510.1 L647.8,530.1 L648.0,961.0 L649.0,971.0 L650.0,961.0 L650.2,529.5 L651.0,509.4 L651.2,402.4 L652.0,389.0 L652.3,326.0 L653.2,302.0 L655.2,301.8 L657.2,301.5 L659.2,301.3 L661.2,301.1 L663.2,300.8 L665.2,300.6 L667.2,300.3 L669.2,300.1 L670.7,299.9 L670.7,323.9 L671.0,387.2 L671.8,400.6 L672.0,508.0 L672.8,528.1 L673.0,960.9 L674.0,971.0 L675.0,960.9 L675.2,527.8 L676.0,507.6 L676.2,400.2 L677.0,386.7 L677.3,323.4 L677.3,299.4 L679.3,299.3 L681.3,299.1 L683.3,298.9 L685.3,298.8 L687.3,298.6 L689.3,298.5 L691.3,298.3 L693.3,298.1 L695.7,297.9 L695.7,321.9 L696.0,385.4 L696.8,398.9 L697.0,506.6 L697.8,526.7 L698.0,960.9 L699.0,971.0 L700.0,960.9 L700.2,526.0 L701.0,505.8 L701.2,398.0 L702.0,384.5 L702.3,320.8 L702.3,296.8 L704.3,296.5 L706.3,296.2 L708.3,295.9 L710.3,295.6 L712.3,295.2 L714.3,294.9 L716.3,294.6 L718.3,294.3 L719.7,294.0 L719.7,318.0 L720.0,382.1 L720.8,395.6 L721.0,503.9 L721.8,524.2 L722.0,960.8 L723.0,971.0 L724.0,960.8 L724.2,523.7 L725.0,503.3 L725.2,394.9 L726.0,381.4 L726.3,317.2 L726.3,293.2 L728.3,293.0 L730.3,292.8 L732.3,292.5 L734.3,292.3 L736.3,292.0 L738.3,291.8 L740.3,291.6 L742.3,291.3 L744.7,291.0 L744.7,315.0 L745.0,379.4 L745.8,393.0 L746.0,501.8 L746.8,522.2 L747.0,960.8 L748.0,971.0 L749.0,960.8 L749.2,521.7 L750.0,501.3 L750.2,392.4 L751.0,378.7 L751.3,314.2 L751.3,290.2 L753.3,290.0 L755.3,289.8 L757.3,289.5 L759.3,289.3 L761.3,289.0 L763.3,288.8 L765.3,288.6 L767.3,288.3 L768.8,288.1 L769.7,312.1 L770.0,376.9 L770.8,390.6 L771.0,499.8 L771.8,520.3 L772.0,960.8 L773.0,971.0 L774.0,960.7 L774.2,519.8 L775.0,499.3 L775.2,390.0 L776.0,376.3 L776.3,311.4 L777.2,287.4 L779.2,287.3 L781.2,287.1 L783.2,286.9 L785.2,286.8 L787.2,286.6 L789.2,286.5 L791.2,286.3 L793.2,286.1 L793.8,286.1 L794.7,310.1 L795.0,375.1 L795.8,388.8 L796.0,498.4 L796.8,519.0 L797.0,960.7 L798.0,971.0 L799.0,960.7 L799.2,518.5 L800.0,498.0 L800.2,388.3 L801.0,374.5 L801.3,309.4 L802.2,285.4 L804.2,285.3 L806.2,285.1 L808.2,284.9 L810.2,284.8 L812.2,284.6 L814.2,284.5 L816.2,284.3 L817.8,284.2 L818.7,308.2 L819.0,354.7 L819.8,365.6 L820.0,452.5 L820.8,468.7 L821.0,818.9 L822.0,827.0 L823.0,819.1 L823.2,478.9 L824.0,463.0 L824.2,378.6 L825.0,368.1 L825.3,323.5 L826.2,299.5 L828.2,294.7 L830.2,289.9 L832.2,285.1 L834.2,280.3 L836.2,276.5 L838.2,281.3 L840.2,286.1 L842.2,290.9 L843.8,294.7 L844.7,318.7 L845.0,366.9 L845.8,378.0 L846.0,466.9 L846.8,483.5 L847.0,841.7 L848.0,850.0 L849.0,841.5 L849.2,476.4 L850.0,459.5 L850.2,368.9 L851.0,357.6 L851.3,308.0 L852.2,284.0 L854.2,284.0 L856.2,284.0 L858.2,284.0 L860.2,284.0 L862.2,284.0 L864.2,284.0 L866.2,284.0 L868.2,284.0 L868.8,284.0 L869.7,308.0 L870.0,364.1 L870.8,376.4 L871.0,475.0 L871.8,493.4 L872.0,890.8 L873.0,900.0 L874.0,890.7 L874.2,492.6 L875.0,474.1 L875.2,375.3 L876.0,363.0 L876.3,306.7 L877.2,282.7 L879.2,282.4 L881.2,282.1 L883.2,281.7 L885.2,281.4 L887.2,281.0 L889.2,280.7 L891.2,280.3 L893.2,280.0 L894.7,279.9 L894.7,303.9 L895.0,364.0 L895.8,376.9 L896.0,480.5 L896.8,499.9 L897.0,917.3 L898.0,927.0 L899.0,917.3 L899.2,499.5 L900.0,480.1 L900.2,376.5 L901.0,363.5 L901.3,303.3 L901.3,279.3 L903.3,279.2 L905.3,279.0 L907.3,278.9 L909.3,278.7 L911.3,278.5 L913.3,278.4 L915.3,278.2 L917.3,278.1 L918.8,278.0 L919.7,302.0 L920.0,361.7 L920.8,374.6 L921.0,477.6 L921.8,496.9 L922.0,912.3 L923.0,922.0 L924.0,912.3 L924.2,496.7 L925.0,477.4 L925.2,374.3 L926.0,361.4 L926.3,301.6 L927.2,277.6 L929.2,277.5 L931.2,277.4 L933.2,277.4 L935.2,277.3 L937.2,277.2 L939.2,277.1 L941.2,277.0 L943.2,277.0 L944.7,276.9 L944.7,300.9 L945.0,357.2 L945.8,369.6 L946.0,468.5 L946.8,487.1 L947.0,885.7 L948.0,895.0 L949.0,885.7 L949.2,486.9 L950.0,468.3 L950.2,369.4 L951.0,357.0 L951.3,300.6 L951.3,276.6 L953.3,276.6 L955.3,276.5 L957.3,276.4 L959.3,276.3 L961.3,276.3 L963.3,276.2 L965.3,276.1 L967.3,276.0 L969.8,276.1 L970.7,300.1 L971.0,357.8 L971.8,370.3 L972.0,470.9 L972.8,489.7 L973.0,895.1 L974.0,904.5 L975.0,895.1 L975.2,489.9 L976.0,471.1 L976.2,370.6 L977.0,358.0 L977.3,300.4 L978.2,276.4 L980.2,276.5 L982.2,276.5 L984.2,276.6 L986.2,276.7 L988.2,276.7 L990.2,276.8 L992.2,276.9 L994.7,277.0 L994.7,301.0 L995.0,359.8 L995.8,372.5 L996.0,474.5 L996.8,493.6 L997.0,904.4 L998.0,914.0 L999.0,904.4 L999.2,493.5 L1000.0,474.4 L1000.2,372.4 L1001.0,359.7 L1001.3,300.9 L1001.3,276.9 L1003.3,276.8 L1005.3,276.8 L1007.3,276.8 L1009.3,276.7 L1011.3,276.7 L1013.3,276.6 L1015.3,276.6 L1017.3,276.6 L1019.8,276.5 L1020.7,300.5 L1021.0,357.7 L1021.8,370.2 L1022.0,470.1 L1022.8,488.8 L1023.0,891.6 L1024.0,901.0 L1025.0,891.6 L1025.2,488.7 L1026.0,470.0 L1026.2,370.0 L1027.0,357.5 L1027.3,300.3 L1028.2,276.3 L1030.2,276.3 L1032.2,276.3 L1034.2,276.2 L1036.2,276.2 L1038.2,276.1 L1040.2,276.1 L1042.2,276.1 L1044.2,276.0 L1044.8,276.0 L1045.7,300.0 L1046.0,357.0 L1046.8,369.5 L1047.0,469.1 L1047.8,487.8 L1048.0,889.7 L1049.0,899.0 L1050.0,889.6 L1050.2,487.3 L1051.0,468.6 L1051.2,368.8 L1052.0,356.3 L1052.3,299.2 L1053.2,275.2 L1055.2,275.1 L1057.2,274.9 L1059.2,274.7 L1061.2,274.5 L1063.2,274.3 L1065.2,274.1 L1067.2,273.9 L1069.2,273.8 L1070.7,273.6 L1070.7,297.6 L1071.0,354.7 L1071.8,367.2 L1072.0,467.0 L1072.8,485.7 L1073.0,888.1 L1074.0,897.5 L1075.0,888.1 L1075.2,485.5 L1076.0,466.7 L1076.2,366.8 L1077.0,354.3 L1077.3,297.2 L1077.3,273.2 L1079.3,273.1 L1081.3,272.9 L1083.3,272.8 L1085.3,272.7 L1087.3,272.6 L1089.3,272.5 L1091.3,272.3 L1093.3,272.2 L1095.3,272.1 L1096.7,272.0 L1096.7,296.0 L1097.0,354.6 L1097.8,367.3 L1098.0,469.0 L1098.8,488.0 L1099.0,897.9 L1100.0,907.4 L1101.0,897.9 L1101.2,488.0 L1102.0,469.0 L1102.2,367.3 L1103.0,354.6 L1103.3,296.0 L1103.3,272.0 L1105.3,272.0 L1107.3,272.0 L1109.3,272.0 L1111.3,272.0 L1113.3,272.0 L1115.3,272.0 L1117.3,272.0 L1119.3,272.0 L1120.8,272.0 L1121.7,296.0 L1122.0,352.4 L1122.8,364.8 L1123.0,463.8 L1123.8,482.3 L1124.0,881.3 L1125.0,890.6 L1126.0,881.4 L1126.2,484.2 L1127.0,465.7 L1127.2,367.1 L1128.0,354.8 L1128.3,298.8 L1129.2,274.8 L1131.2,275.5 L1133.2,276.3 L1135.2,277.0 L1137.2,277.3 L1139.2,277.5 L1141.2,277.7 L1143.2,278.0 L1145.2,278.2 L1146.7,278.4 L1146.7,302.4 L1147.0,361.0 L1147.8,373.7 L1148.0,475.4 L1148.8,494.5 L1149.0,904.5 L1150.0,914.0 L1151.0,904.5 L1151.2,495.0 L1152.0,476.0 L1152.2,374.4 L1153.0,361.7 L1153.3,303.2 L1153.3,279.2 L1155.3,279.4 L1157.3,279.7 L1159.3,279.9 L1161.3,280.1 L1163.3,280.2 L1165.3,280.3 L1167.3,280.4 L1169.3,280.5 L1171.3,280.6 L1172.7,280.6 L1172.7,304.6 L1173.0,361.9 L1173.8,374.4 L1174.0,474.4 L1174.8,493.1 L1175.0,896.2 L1176.0,905.6 L1177.0,896.2 L1177.2,493.3 L1178.0,474.6 L1178.2,374.7 L1179.0,362.2 L1179.3,305.0 L1179.3,281.0 L1181.3,281.1 L1183.3,281.2 L1185.3,281.3 L1187.3,281.4 L1189.3,281.5 L1191.3,281.6 L1193.3,281.7 L1195.3,281.8 L1197.3,281.9 L1198.7,281.9 L1198.7,305.9 L1199.0,361.3 L1199.8,373.5 L1200.0,471.3 L1200.8,489.6 L1201.0,883.5 L1202.0,892.7 L1203.0,883.5 L1203.2,489.8 L1204.0,471.5 L1204.2,373.8 L1205.0,361.6 L1205.3,306.3 L1205.3,282.3 L1207.3,282.4 L1209.3,282.5 L1211.3,282.6 L1213.3,282.7 L1215.3,282.8 L1217.3,282.9 L1219.3,283.0 L1221.3,283.1 L1223.7,283.2 L1223.7,307.2 L1224.0,365.7 L1224.8,378.4 L1225.0,480.0 L1225.8,499.0 L1226.0,908.5 L1227.0,918.0 L1228.0,908.5 L1228.2,499.2 L1229.0,480.2 L1229.2,378.7 L1230.0,366.0 L1230.3,307.5 L1230.3,283.5 L1232.3,283.6 L1234.3,283.7 L1236.3,283.8 L1238.3,283.9 L1240.3,284.1 L1242.3,284.6 L1244.3,285.0 L1246.3,285.5 L1248.3,286.0 L1249.7,286.3 L1249.7,310.3 L1250.0,367.9 L1250.8,380.5 L1251.0,480.9 L1251.8,499.7 L1252.0,904.6 L1253.0,914.0 L1254.0,904.6 L1254.2,500.8 L1255.0,482.0 L1255.2,381.8 L1256.0,369.3 L1256.3,311.9 L1256.3,287.9 L1258.3,288.4 L1260.3,288.9 L1262.3,289.4 L1264.3,289.8 L1266.3,290.1 L1268.3,290.2 L1270.3,290.3 L1272.3,290.4 L1274.7,290.6 L1274.7,314.6 L1275.0,371.7 L1275.8,384.2 L1276.0,484.1 L1276.8,502.9 L1277.0,905.6 L1278.0,915.0 L1279.0,905.6 L1279.2,503.1 L1280.0,484.4 L1280.2,384.5 L1281.0,372.1 L1281.3,314.9 L1281.3,290.9 L1283.3,291.0 L1285.3,291.2 L1287.3,291.3 L1289.3,291.4 L1291.3,291.5 L1293.3,291.6 L1295.3,291.7 L1297.3,291.8 L1299.3,292.0 L1301.3,292.0 L1301.5,292.0 L1303.0,975.0 M1365.0,975.0 L1366.5,213.2 L1368.5,213.8 L1370.5,214.5 L1372.5,215.2 L1374.5,215.8 L1376.5,217.4 L1378.5,219.2 L1380.5,221.1 L1382.5,222.9 L1384.5,224.8 L1385.8,226.0 L1386.7,250.0 L1387.0,303.9 L1387.8,315.9 L1388.0,411.9 L1388.8,429.9 L1389.0,816.7 L1390.0,825.7 L1391.0,816.7 L1391.2,431.2 L1392.0,413.3 L1392.2,317.7 L1393.0,305.7 L1393.3,252.0 L1394.2,228.0 L1396.2,228.0 L1398.2,228.0 L1400.2,228.0 L1402.2,228.0 L1404.2,228.0 L1406.2,228.0 L1408.2,228.0 L1410.2,228.0 L1411.8,228.0 L1412.7,252.0 L1413.0,306.9 L1413.8,319.1 L1414.0,416.2 L1414.8,434.4 L1415.0,825.9 L1416.0,835.0 L1417.0,825.9 L1417.2,434.4 L1418.0,416.2 L1418.2,319.1 L1419.0,306.9 L1419.3,252.0 L1420.2,228.0 L1422.2,228.0 L1424.2,228.0 L1426.2,228.0 L1428.2,228.0 L1430.2,228.0 L1432.2,228.0 L1434.2,228.0 L1436.2,228.0 L1438.7,228.5 L1438.7,252.5 L1439.0,306.6 L1439.8,318.6 L1440.0,414.8 L1440.8,432.8 L1441.0,820.5 L1442.0,829.5 L1443.0,820.5 L1443.2,435.2 L1444.0,417.3 L1444.2,321.7 L1445.0,309.7 L1445.3,256.1 L1445.3,232.1 L1447.3,232.2 L1449.3,232.3 L1451.3,232.4 L1453.3,232.5 L1455.3,232.6 L1457.3,232.7 L1459.3,232.8 L1461.3,233.0 L1463.3,232.9 L1464.7,232.8 L1464.7,256.8 L1465.0,309.4 L1465.8,321.2 L1466.0,415.5 L1466.8,433.1 L1467.0,813.2 L1468.0,822.0 L1469.0,813.2 L1469.2,432.8 L1470.0,415.1 L1470.2,320.8 L1471.0,309.0 L1471.3,256.3 L1471.3,232.3 L1473.3,232.2 L1475.3,232.1 L1477.3,231.9 L1479.3,231.8 L1481.3,231.6 L1483.3,231.5 L1485.3,231.3 L1487.3,231.2 L1489.3,231.1 L1490.7,231.0 L1490.7,255.0 L1491.0,308.8 L1491.8,320.8 L1492.0,416.5 L1492.8,434.5 L1493.0,820.5 L1494.0,829.5 L1495.0,820.5 L1495.2,434.5 L1496.0,416.5 L1496.2,320.8 L1497.0,308.8 L1497.3,255.0 L1497.3,231.0 L1499.3,231.0 L1501.3,231.0 L1503.3,231.0 L1505.3,231.0 L1507.3,231.0 L1509.3,231.0 L1511.3,231.0 L1513.3,231.0 L1515.3,231.0 L1516.7,230.8 L1516.7,254.8 L1517.0,308.9 L1517.8,320.9 L1518.0,417.0 L1518.8,435.0 L1519.0,822.5 L1520.0,831.5 L1521.0,822.5 L1521.2,434.5 L1522.0,416.5 L1522.2,320.2 L1523.0,308.2 L1523.3,254.0 L1523.3,230.0 L1525.3,229.8 L1527.3,229.5 L1529.3,229.3 L1531.3,229.0 L1533.3,228.8 L1535.3,228.6 L1537.3,228.3 L1539.3,228.1 L1541.3,227.9 L1542.7,227.8 L1542.7,251.8 L1543.0,305.6 L1543.8,317.5 L1544.0,413.2 L1544.8,431.2 L1545.0,817.0 L1546.0,826.0 L1547.0,817.0 L1547.2,430.9 L1548.0,412.9 L1548.2,317.1 L1549.0,305.2 L1549.3,251.3 L1549.3,227.3 L1551.3,227.2 L1553.3,227.1 L1555.3,226.9 L1557.3,226.8 L1559.3,226.6 L1561.3,226.5 L1563.3,226.3 L1565.3,226.2 L1567.8,226.0 L1568.7,250.0 L1569.0,304.2 L1569.8,316.3 L1570.0,412.5 L1570.8,430.6 L1571.0,818.6 L1572.0,827.6 L1573.0,818.6 L1573.2,430.1 L1574.0,412.1 L1574.2,315.7 L1575.0,303.7 L1575.3,249.4 L1576.2,225.4 L1578.2,225.2 L1580.2,225.1 L1582.2,224.9 L1584.2,224.8 L1586.2,224.7 L1588.2,224.5 L1590.2,224.4 L1592.2,224.2 L1593.8,224.1 L1594.7,248.1 L1595.0,303.3 L1595.8,315.5 L1596.0,413.0 L1596.8,431.3 L1597.0,824.3 L1598.0,833.4 L1599.0,824.2 L1599.2,430.4 L1600.0,412.1 L1600.2,314.4 L1601.0,302.2 L1601.3,246.8 L1602.2,222.8 L1604.2,222.5 L1606.2,222.2 L1608.2,221.9 L1610.2,221.6 L1612.2,221.2 L1614.2,220.9 L1616.2,220.6 L1618.2,220.3 L1620.7,219.9 L1620.7,243.9 L1621.0,297.4 L1621.8,309.3 L1622.0,404.7 L1622.8,422.6 L1623.0,807.1 L1624.0,816.0 L1625.0,807.0 L1625.2,422.0 L1626.0,404.0 L1626.2,308.5 L1627.0,296.6 L1627.3,243.0 L1627.3,219.0 L1629.3,218.7 L1631.3,218.4 L1633.3,218.1 L1635.3,217.8 L1637.3,217.5 L1639.3,217.2 L1641.3,217.0 L1643.3,216.7 L1645.8,216.3 L1646.7,240.3 L1647.0,284.1 L1647.8,294.5 L1648.0,377.9 L1648.8,393.5 L1649.0,729.6 L1650.0,737.4 L1651.0,729.8 L1651.2,401.3 L1652.0,386.0 L1652.2,304.5 L1653.0,294.3 L1653.3,252.1 L1654.2,228.1 L1656.2,223.3 L1658.2,218.5 L1660.2,213.7 L1662.2,208.9 L1664.2,209.9 L1666.2,214.7 L1668.2,219.5 L1670.2,224.3 L1672.2,229.1 L1672.8,230.5 L1673.7,254.5 L1674.0,295.4 L1674.8,305.4 L1675.0,385.3 L1675.8,400.2 L1676.0,722.2 L1677.0,729.7 L1678.0,721.8 L1678.2,383.4 L1679.0,367.7 L1679.2,283.7 L1680.0,273.2 L1680.3,229.0 L1681.2,205.0 L1683.2,205.0 L1685.2,205.0 L1687.2,205.0 L1689.2,205.0 L1691.2,205.0 L1693.2,205.0 L1695.2,205.0 L1697.2,205.0 L1698.7,205.0 L1698.7,229.0 L1699.0,282.1 L1699.8,293.9 L1700.0,388.8 L1700.8,406.6 L1701.0,789.1 L1702.0,798.0 L1703.0,789.0 L1703.2,402.0 L1704.0,384.0 L1704.2,288.0 L1705.0,276.0 L1705.3,222.0 L1705.3,198.0 L1707.3,197.9 L1709.3,197.8 L1711.3,197.7 L1713.3,197.6 L1715.3,197.5 L1717.3,197.4 L1719.3,197.3 L1721.3,197.2 L1723.3,197.1 L1725.8,196.0 L1726.7,220.0 L1727.0,273.8 L1727.8,285.7 L1728.0,381.4 L1728.8,399.3 L1729.0,785.0 L1730.0,794.0 L1731.0,784.9 L1731.2,395.8 L1732.0,377.7 L1732.2,281.1 L1733.0,269.1 L1733.3,214.6 L1734.2,190.6 L1736.2,190.4 L1738.2,190.3 L1740.2,190.1 L1742.2,189.9 L1744.2,189.7 L1746.2,189.5 L1748.2,189.3 L1750.2,189.2 L1752.7,188.5 L1752.7,212.5 L1753.0,265.9 L1753.8,277.8 L1754.0,373.0 L1754.8,390.8 L1755.0,774.6 L1756.0,783.5 L1757.0,774.5 L1757.2,388.5 L1758.0,370.5 L1758.2,274.8 L1759.0,262.8 L1759.3,209.0 L1759.3,185.0 L1761.3,185.0 L1763.3,185.0 L1765.3,185.0 L1767.3,185.0 L1769.3,185.0 L1771.3,185.0 L1773.3,185.0 L1775.3,185.0 L1777.3,185.0 L1778.7,185.0 L1778.7,209.0 L1779.0,265.7 L1779.8,278.1 L1780.0,377.5 L1780.8,396.1 L1781.0,796.7 L1782.0,806.0 L1783.0,796.7 L1783.2,396.4 L1784.0,377.8 L1784.2,278.5 L1785.0,266.1 L1785.3,209.4 L1785.3,185.4 L1787.3,185.6 L1789.3,185.7 L1791.3,185.9 L1793.3,186.0 L1795.3,186.2 L1797.3,186.3 L1799.3,186.5 L1801.3,186.6 L1803.3,186.8 L1804.7,186.9 L1804.7,210.9 L1805.0,268.7 L1805.8,281.3 L1806.0,381.9 L1806.8,400.8 L1807.0,806.6 L1808.0,816.0 L1809.0,806.6 L1809.2,401.2 L1810.0,382.4 L1810.2,281.9 L1811.0,269.3 L1811.3,211.6 L1811.3,187.6 L1813.3,187.8 L1815.3,188.0 L1817.3,188.3 L1819.3,188.5 L1821.3,188.7 L1823.3,188.9 L1825.3,189.1 L1827.3,189.4 L1829.3,189.6 L1830.7,189.7 L1830.7,213.7 L1831.0,270.5 L1831.8,282.9 L1832.0,382.3 L1832.8,401.0 L1833.0,801.7 L1834.0,811.0 L1835.0,801.7 L1835.2,401.5 L1836.0,382.9 L1836.2,283.6 L1837.0,271.2 L1837.3,214.5 L1837.3,190.5 L1839.3,190.8 L1841.3,191.0 L1843.3,191.2 L1845.3,191.5 L1847.3,191.7 L1849.3,192.0 L1851.3,192.2 L1853.3,192.4 L1855.3,192.7 L1857.3,192.9 L1858.7,193.1 L1858.7,217.1 L1859.0,274.7 L1859.8,287.3 L1860.0,387.7 L1860.8,406.6 L1861.0,811.6 L1862.0,821.0 L1863.0,811.6 L1863.2,407.1 L1864.0,388.2 L1864.2,287.9 L1865.0,275.3 L1865.3,217.8 L1865.3,193.8 L1867.3,194.0 L1869.3,194.3 L1871.3,194.5 L1873.3,194.7 L1875.3,194.9 L1877.3,195.1 L1879.3,195.4 L1881.3,195.6 L1883.3,195.8 L1884.7,196.0 L1884.7,220.0 L1885.0,276.3 L1885.8,288.7 L1886.0,387.6 L1886.8,406.1 L1887.0,804.7 L1888.0,814.0 L1889.0,804.7 L1889.2,405.5 L1890.0,386.9 L1890.2,287.9 L1891.0,275.5 L1891.3,219.1 L1891.3,195.1 L1893.3,194.8 L1895.3,194.5 L1897.3,194.2 L1899.3,193.9 L1901.3,193.6 L1903.3,193.3 L1905.3,193.0 L1907.3,192.7 L1909.3,192.4 L1910.7,192.2 L1910.7,216.2 L1911.0,273.5 L1911.8,286.1 L1912.0,386.2 L1912.8,405.0 L1913.0,808.6 L1914.0,818.0 L1915.0,808.6 L1915.2,403.8 L1916.0,385.0 L1916.2,284.6 L1917.0,272.1 L1917.3,214.5 L1917.3,190.5 L1919.3,189.9 L1921.3,189.3 L1923.3,188.8 L1925.3,188.2 L1927.3,187.6 L1929.3,187.1 L1931.3,186.5 L1933.3,185.9 L1935.3,185.3 L1937.3,184.8 L1938.7,184.4 L1938.7,208.4 L1939.0,265.8 L1939.8,278.4 L1940.0,378.6 L1940.8,397.4 L1941.0,801.6 L1942.0,811.0 L1943.0,801.6 L1943.2,396.3 L1944.0,377.5 L1944.2,276.9 L1945.0,264.4 L1945.3,206.7 L1945.3,182.7 L1947.3,182.2 L1949.3,181.7 L1951.3,181.2 L1953.3,180.7 L1955.3,180.2 L1957.3,179.7 L1959.3,179.2 L1961.3,178.8 L1963.3,178.6 L1964.7,178.4 L1964.7,202.4 L1965.0,261.3 L1965.8,274.0 L1966.0,376.0 L1966.8,395.2 L1967.0,806.4 L1968.0,816.0 L1969.0,806.4 L1969.2,394.6 L1970.0,375.4 L1970.2,273.3 L1971.0,260.5 L1971.3,201.5 L1971.3,177.5 L1973.3,177.2 L1975.3,177.0 L1977.3,176.7 L1979.3,176.4 L1981.3,176.2 L1983.3,175.9 L1985.3,175.6 L1987.3,175.4 L1989.3,175.1 L1991.7,174.8 L1991.7,198.8 L1992.0,257.1 L1992.8,269.7 L1993.0,371.1 L1993.8,390.1 L1994.0,798.5 L1995.0,808.0 L1996.0,798.5 L1996.2,389.4 L1997.0,370.4 L1997.2,268.9 L1998.0,256.3 L1998.3,197.8 L1998.3,173.8 L2000.3,173.5 L2002.3,173.2 L2004.3,173.0 L2006.3,172.7 L2008.3,172.4 L2010.3,172.1 L2012.3,171.8 L2014.3,171.5 L2016.3,171.2 L2018.7,171.0 L2018.7,195.0 L2019.0,252.3 L2019.8,264.8 L2020.0,364.8 L2020.8,383.5 L2021.0,786.6 L2022.0,796.0 L2023.0,786.6 L2023.2,383.7 L2024.0,364.9 L2024.2,265.0 L2025.0,252.5 L2025.3,195.3 L2025.3,171.3 L2027.3,171.3 L2029.3,171.4 L2031.3,171.5 L2033.3,171.5 L2035.3,171.6 L2037.3,171.7 L2039.3,171.8 L2041.3,171.8 L2043.3,171.9 L2044.7,172.0 L2044.7,196.0 L2045.0,245.0 L2045.8,256.2 L2046.0,346.0 L2046.8,362.9 L2047.0,725.1 L2048.0,733.5 L2049.0,725.1 L2049.2,362.6 L2050.0,345.8 L2050.2,255.9 L2051.0,244.6 L2051.3,195.6 L2051.3,171.6 L2053.3,171.4 L2055.3,171.3 L2057.3,171.1 L2059.3,171.0 L2061.3,170.8 L2063.3,170.7 L2065.3,170.5 L2067.3,170.4 L2069.3,170.2 L2071.8,170.0 L2072.7,194.0 L2073.0,242.7 L2073.8,253.9 L2074.0,343.3 L2074.8,360.1 L2075.0,720.6 L2076.0,729.0 L2077.0,720.6 L2077.2,360.1 L2078.0,343.3 L2078.2,253.8 L2079.0,242.7 L2079.3,194.0 L2080.2,170.0 L2082.2,170.0 L2084.2,170.0 L2086.2,170.0 L2088.2,170.0 L2090.2,170.0 L2092.2,170.0 L2094.2,170.0 L2096.2,170.0 L2098.7,170.0 L2098.7,194.0 L2099.0,242.2 L2099.8,253.2 L2100.0,342.1 L2100.8,358.7 L2101.0,716.7 L2102.0,725.0 L2103.0,716.7 L2103.2,358.4 L2104.0,341.8 L2104.2,252.9 L2105.0,241.8 L2105.3,193.6 L2105.3,169.6 L2107.3,169.5 L2109.3,169.3 L2111.3,169.2 L2113.3,169.0 L2115.3,168.9 L2117.3,168.7 L2119.3,168.6 L2121.3,168.4 L2123.3,168.3 L2125.8,168.1 L2126.7,192.1 L2127.0,240.6 L2127.8,251.8 L2128.0,341.0 L2128.8,357.8 L2129.0,717.6 L2130.0,726.0 L2131.0,717.6 L2131.2,357.7 L2132.0,341.0 L2132.2,251.7 L2133.0,240.5 L2133.3,192.0 L2134.2,168.0 L2136.2,168.0 L2138.2,168.0 L2140.2,168.0 L2142.2,168.0 L2144.2,168.0 L2146.2,168.0 L2148.2,168.0 L2150.2,168.0 L2152.7,168.0 L2152.7,192.0 L2153.0,240.2 L2153.8,251.2 L2154.0,340.1 L2154.8,356.7 L2155.0,714.7 L2156.0,723.0 L2157.0,714.7 L2157.2,356.9 L2158.0,340.3 L2158.2,251.5 L2159.0,240.4 L2159.3,192.3 L2159.3,168.3 L2161.3,168.5 L2163.3,168.7 L2165.3,168.8 L2167.3,169.0 L2169.3,169.1 L2171.3,169.3 L2173.3,169.5 L2175.3,169.6 L2177.3,169.8 L2179.8,170.0 L2180.7,194.0 L2181.0,241.5 L2181.8,252.5 L2182.0,340.5 L2182.8,357.0 L2183.0,711.7 L2184.0,720.0 L2185.0,711.8 L2185.2,358.4 L2186.0,342.0 L2186.2,254.3 L2187.0,243.3 L2187.3,196.1 L2188.2,172.1 L2190.2,172.6 L2192.2,173.2 L2194.2,173.7 L2196.2,174.2 L2198.2,174.7 L2200.2,175.2 L2202.2,175.8 L2204.2,176.3 L2206.2,176.8 L2206.8,176.9 L2207.7,200.9 L2208.0,247.0 L2208.8,257.8 L2209.0,344.1 L2209.8,360.2 L2210.0,707.9 L2211.0,716.0 L2212.0,707.9 L2212.2,361.0 L2213.0,344.9 L2213.2,258.8 L2214.0,248.1 L2214.3,202.2 L2215.2,178.2 L2217.2,178.5 L2219.2,178.7 L2221.2,179.0 L2223.2,179.3 L2225.2,179.6 L2227.2,179.9 L2229.2,180.2 L2231.2,180.5 L2233.2,180.7 L2234.7,181.0 L2234.7,205.0 L2235.0,250.9 L2235.8,261.7 L2236.0,347.8 L2236.8,363.9 L2237.0,710.9 L2238.0,719.0 L2239.0,710.9 L2239.2,364.2 L2240.0,348.1 L2240.2,262.1 L2241.0,251.3 L2241.3,205.5 L2241.3,181.5 L2243.3,181.6 L2245.3,181.8 L2247.3,181.9 L2249.3,182.1 L2251.3,182.2 L2253.3,182.4 L2255.3,182.5 L2257.3,182.7 L2259.3,182.8 L2261.3,182.9 L2262.7,183.1 L2262.7,207.1 L2263.0,252.2 L2263.8,262.8 L2264.0,347.9 L2264.8,363.8 L2265.0,706.6 L2266.0,714.6 L2267.0,706.6 L2267.2,364.6 L2268.0,348.7 L2268.2,263.8 L2269.0,253.2 L2269.3,208.3 L2269.3,184.3 L2271.3,184.7 L2273.3,185.0 L2275.3,185.4 L2277.3,185.7 L2279.3,186.1 L2281.3,186.4 L2283.3,186.8 L2285.3,187.2 L2287.3,187.5 L2288.7,187.8 L2288.7,211.8 L2289.0,256.8 L2289.8,267.5 L2290.0,352.4 L2290.8,368.4 L2291.0,711.0 L2292.0,719.0 L2293.0,711.0 L2293.2,368.8 L2294.0,352.9 L2294.2,268.0 L2295.0,257.4 L2295.3,212.4 L2295.3,188.4 L2297.3,188.5 L2299.3,188.7 L2301.3,188.8 L2303.3,189.0 L2305.3,189.1 L2307.3,189.2 L2309.3,189.4 L2311.3,189.5 L2313.3,189.7 L2315.3,189.8 L2316.7,189.9 L2316.7,213.9 L2317.0,258.9 L2317.8,269.5 L2318.0,354.4 L2318.8,370.3 L2319.0,712.4 L2320.0,720.4 L2321.0,712.4 L2321.2,370.5 L2322.0,354.6 L2322.2,269.7 L2323.0,259.1 L2323.3,214.2 L2323.3,190.2 L2325.3,190.3 L2327.3,190.3 L2329.3,190.4 L2331.3,190.5 L2333.3,190.6 L2335.3,190.6 L2337.3,190.7 L2339.3,190.8 L2341.3,190.9 L2343.8,191.0 L2344.7,215.0 L2345.0,260.7 L2345.8,271.5 L2346.0,357.3 L2346.8,373.4 L2347.0,719.6 L2348.0,727.7 L2349.0,719.6 L2349.2,373.0 L2350.0,356.9 L2350.2,270.9 L2351.0,260.1 L2351.3,214.3 L2352.2,190.3 L2354.2,189.1 L2356.2,187.9 L2358.2,186.7 L2360.2,185.5 L2362.2,184.3 L2364.2,183.1 L2366.2,181.9 L2368.2,180.7 L2370.7,179.2 L2370.7,203.2 L2371.0,249.4 L2371.8,260.2 L2372.0,346.5 L2372.8,362.7 L2373.0,710.9 L2374.0,719.0 L2375.0,710.9 L2375.2,360.8 L2376.0,344.5 L2376.2,257.6 L2377.0,246.8 L2377.3,200.2 L2377.3,176.2 L2379.3,175.3 L2381.3,173.9 L2383.3,172.3 L2385.3,170.6 L2387.3,169.0 L2389.3,167.3 L2391.3,165.7 L2393.3,164.0 L2395.3,162.4 L2397.3,160.9 L2398.7,160.2 L2398.7,184.2 L2399.0,231.6 L2399.8,242.6 L2400.0,330.4 L2400.8,346.8 L2401.0,700.8 L2402.0,709.0 L2403.0,700.7 L2403.2,344.9 L2404.0,328.3 L2404.2,240.1 L2405.0,229.0 L2405.3,181.3 L2405.3,157.3 L2407.3,156.6 L2409.3,155.9 L2411.3,155.2 L2413.3,155.0 L2415.3,155.0 L2417.3,155.0 L2419.3,155.0 L2421.3,156.1 L2423.3,157.8 L2425.3,159.4 L2427.3,160.0 L2427.5,160.0 L2429.0,975.0" stroke="#ff8000"/>
<path d="M305.0,975.0 L307.0,700.0 L309.0,350.0 L309.5,273.0 L311.5,272.8 L313.5,272.6 L315.5,272.4 L317.5,272.2 L319.5,272.0 L321.5,271.8 L323.5,271.4 L325.5,271.1 L326.8,270.4 L327.7,294.4 L328.0,361.6 L328.8,375.7 L329.0,487.9 L329.8,509.0 L330.0,961.5 L331.0,972.0 L332.0,961.4 L332.2,505.2 L333.0,484.0 L333.2,370.8 L334.0,356.7 L334.3,288.7 L335.2,264.7 L337.2,263.6 L339.2,262.4 L341.2,261.3 L343.2,260.1 L345.2,258.9 L347.2,257.8 L349.2,256.6 L351.2,255.5 L351.8,255.1 L352.7,279.1 L353.0,342.6 L353.8,356.0 L354.0,463.7 L354.8,483.9 L355.0,917.9 L356.0,928.0 L357.0,917.9 L357.2,481.5 L358.0,461.3 L358.2,353.0 L359.0,339.5 L359.3,275.6 L360.2,251.6 L362.2,251.3 L364.2,251.1 L366.2,250.9 L368.2,250.7 L370.2,250.5 L372.2,250.3 L374.2,250.1 L376.7,249.3 L376.7,273.3 L377.0,334.9 L377.8,348.1 L378.0,453.5 L378.8,473.3 L379.0,898.1 L380.0,908.0 L381.0,898.1 L381.2,472.3 L382.0,452.5 L382.2,346.9 L383.0,333.7 L383.3,271.8 L383.3,247.8 L385.3,247.7 L387.3,247.6 L389.3,247.5 L391.3,247.4 L393.3,247.3 L395.3,247.2 L397.3,247.1 L399.3,247.0 L400.7,247.0 L400.7,271.0 L401.0,332.1 L401.8,345.2 L402.0,450.1 L402.8,469.7 L403.0,892.2 L404.0,902.0 L405.0,892.2 L405.2,469.7 L406.0,450.1 L406.2,345.2 L407.0,332.1 L407.3,271.0 L407.3,247.0 L409.3,247.0 L411.3,247.0 L413.3,247.0 L415.3,247.0 L417.3,247.0 L419.3,247.0 L421.3,247.0 L423.3,247.0 L425.7,247.0 L425.7,271.0 L426.0,332.9 L426.8,346.2 L427.0,451.9 L427.8,471.7 L428.0,898.1 L429.0,908.0 L430.0,898.1 L430.2,471.8 L431.0,452.0 L431.2,346.3 L432.0,333.1 L432.3,271.1 L432.3,247.1 L434.3,247.2 L436.3,247.2 L438.3,247.3 L440.3,247.3 L442.3,247.3 L444.3,247.4 L446.3,247.4 L448.8,247.5 L449.7,271.5 L450.0,335.9 L450.8,349.6 L451.0,458.4 L451.8,478.9 L452.0,917.8 L453.0,928.0 L454.0,917.8 L454.2,478.9 L455.0,458.5 L455.2,349.6 L456.0,336.0 L456.3,271.5 L457.2,247.5 L459.2,247.5 L461.2,247.5 L463.2,247.5 L465.2,247.5 L467.2,247.5 L469.2,247.5 L471.2,247.5 L473.2,247.5 L474.7,247.5 L474.7,271.5 L475.0,332.8 L475.8,346.0 L476.0,451.0 L476.8,470.7 L477.0,894.2 L478.0,904.0 L479.0,894.2 L479.2,472.0 L480.0,452.4 L480.2,347.7 L481.0,334.6 L481.3,273.5 L481.3,249.5 L483.3,249.8 L485.3,250.1 L487.3,250.4 L489.3,250.7 L491.3,251.0 L493.3,251.3 L495.3,251.6 L497.3,251.9 L498.7,252.7 L498.7,276.7 L499.0,336.8 L499.8,349.8 L500.0,453.4 L500.8,472.8 L501.0,890.3 L502.0,900.0 L503.0,890.4 L503.2,475.5 L504.0,456.2 L504.2,353.3 L505.0,340.4 L505.3,280.8 L505.3,256.8 L507.3,257.3 L509.3,257.8 L511.3,258.3 L513.3,258.8 L515.3,259.3 L517.3,259.8 L519.3,260.3 L521.8,260.9 L522.7,284.9 L523.0,346.6 L523.8,359.8 L524.0,465.3 L524.8,485.0 L525.0,910.1 L526.0,920.0 L527.0,910.2 L527.2,490.6 L528.0,471.1 L528.2,367.0 L529.0,354.0 L529.3,293.4 L530.2,269.4 L532.2,270.1 L534.2,270.7 L536.2,271.4 L538.2,272.1 L540.2,272.7 L542.2,273.4 L544.2,274.1 L546.2,274.7 L547.7,275.5 L547.7,299.5 L548.0,366.1 L548.8,380.0 L549.0,491.4 L549.8,512.3 L550.0,961.6 L551.0,972.0 L552.0,961.6 L552.2,514.2 L553.0,493.4 L553.2,382.4 L554.0,368.5 L554.3,302.3 L554.3,278.3 L556.3,278.6 L558.3,278.8 L560.3,279.0 L562.3,279.2 L564.3,279.4 L566.3,279.6 L568.3,279.8 L570.3,280.0 L571.8,280.0 L572.7,304.0 L573.0,370.0 L573.8,383.8 L574.0,494.5 L574.8,515.3 L575.0,961.6 L576.0,972.0 L577.0,961.6 L577.2,515.3 L578.0,494.5 L578.2,383.8 L579.0,370.0 L579.3,304.0 L580.2,280.0 L582.2,280.0 L584.2,280.0 L586.2,280.0 L588.2,280.0 L590.2,280.1 L592.2,281.3 L594.2,282.5 L596.7,284.0 L596.7,308.0 L597.0,367.5 L597.8,380.4 L598.0,483.2 L598.8,502.5 L599.0,916.9 L600.0,926.5 L601.0,916.9 L601.2,504.0 L602.0,484.8 L602.2,382.4 L603.0,369.6 L603.3,310.3 L603.3,286.3 L605.3,286.5 L607.3,286.7 L609.3,286.9 L611.3,287.1 L613.3,287.3 L615.3,287.5 L617.3,287.7 L619.8,288.0 L620.7,312.0 L621.0,376.9 L621.8,390.6 L622.0,500.0 L622.8,520.5 L623.0,961.7 L624.0,972.0 L625.0,961.7 L625.2,520.3 L626.0,499.8 L626.2,390.3 L627.0,376.6 L627.3,311.7 L628.2,287.7 L630.2,287.6 L632.2,287.5 L634.2,287.4 L636.2,287.4 L638.2,287.3 L640.2,287.2 L642.2,287.1 L644.2,287.0 L644.8,287.0 L645.7,311.0 L646.0,376.1 L646.8,389.8 L647.0,499.4 L647.8,519.9 L648.0,961.7 L649.0,972.0 L650.0,961.7 L650.2,519.3 L651.0,498.7 L651.2,388.9 L652.0,375.2 L652.3,310.0 L653.2,286.0 L655.2,285.8 L657.2,285.5 L659.2,285.3 L661.2,285.1 L663.2,284.8 L665.2,284.6 L667.2,284.3 L669.2,284.1 L670.7,283.9 L670.7,307.9 L671.0,373.3 L671.8,387.1 L672.0,497.2 L672.8,517.8 L673.0,961.7 L674.0,972.0 L675.0,961.7 L675.2,517.1 L676.0,496.5 L676.2,386.2 L677.0,372.4 L677.3,306.8 L677.3,282.8 L679.3,282.5 L681.3,282.2 L683.3,281.9 L685.3,281.6 L687.3,281.2 L689.3,280.9 L691.3,280.6 L693.3,280.3 L695.7,279.9 L695.7,303.9 L696.0,369.9 L696.8,383.7 L697.0,494.5 L697.8,515.2 L698.0,961.6 L699.0,972.0 L700.0,961.6 L700.2,514.7 L701.0,493.9 L701.2,383.1 L702.0,369.2 L702.3,303.1 L702.3,279.1 L704.3,278.9 L706.3,278.6 L708.3,278.4 L710.3,278.2 L712.3,277.9 L714.3,277.7 L716.3,277.4 L718.3,277.2 L719.7,277.0 L719.7,301.0 L720.0,367.4 L720.8,381.3 L721.0,492.5 L721.8,513.3 L722.0,961.6 L723.0,972.0 L724.0,961.5 L724.2,510.5 L725.0,489.6 L725.2,377.7 L726.0,363.7 L726.3,296.8 L726.3,272.8 L728.3,272.5 L730.3,272.2 L732.3,271.9 L734.3,271.6 L736.3,271.3 L738.3,271.0 L740.3,270.7 L742.3,270.4 L744.7,270.0 L744.7,294.0 L745.0,361.3 L745.8,375.3 L746.0,487.7 L746.8,508.7 L747.0,961.5 L748.0,972.0 L749.0,961.4 L749.2,507.3 L750.0,486.2 L750.2,373.5 L751.0,359.4 L751.3,291.9 L751.3,267.9 L753.3,267.7 L755.3,267.5 L757.3,267.3 L759.3,267.1 L761.3,266.9 L763.3,266.7 L765.3,266.5 L767.3,266.3 L768.8,266.1 L769.7,290.1 L770.0,357.9 L770.8,372.0 L771.0,484.9 L771.8,506.1 L772.0,961.4 L773.0,972.0 L774.0,961.4 L774.2,505.8 L775.0,484.7 L775.2,371.7 L776.0,357.5 L776.3,289.7 L777.2,265.7 L779.2,265.6 L781.2,265.6 L783.2,265.5 L785.2,265.4 L787.2,265.3 L789.2,265.2 L791.2,265.2 L793.2,265.1 L793.8,265.0 L794.7,289.0 L795.0,357.0 L795.8,371.1 L796.0,484.2 L796.8,505.4 L797.0,961.4 L798.0,972.0 L799.0,961.4 L799.2,505.4 L800.0,484.2 L800.2,371.1 L801.0,356.9 L801.3,289.0 L802.2,265.0 L804.2,265.0 L806.2,265.0 L808.2,265.0 L810.2,265.0 L812.2,265.0 L814.2,265.0 L816.2,265.0 L817.8,265.0 L818.7,289.0 L819.0,338.2 L819.8,349.4 L820.0,439.5 L820.8,456.4 L821.0,819.6 L822.0,828.0 L823.0,819.9 L823.2,470.6 L824.0,454.4 L824.2,367.7 L825.0,356.9 L825.3,310.5 L826.2,286.5 L828.2,281.3 L830.2,276.1 L832.2,270.9 L834.2,265.7 L836.2,261.5 L838.2,266.7 L840.2,271.9 L842.2,277.1 L843.8,281.3 L844.7,305.3 L845.0,355.3 L845.8,366.7 L846.0,457.9 L846.8,475.0 L847.0,842.5 L848.0,851.0 L849.0,842.2 L849.2,464.9 L850.0,447.4 L850.2,353.8 L851.0,342.1 L851.3,290.0 L852.2,266.0 L854.2,266.0 L856.2,266.0 L858.2,266.0 L860.2,266.0 L862.2,266.0 L864.2,266.0 L866.2,266.0 L868.2,266.0 L868.8,266.0 L869.7,290.0 L870.0,348.6 L870.8,361.2 L871.0,462.9 L871.8,481.9 L872.0,891.5 L873.0,901.0 L874.0,891.5 L874.2,481.5 L875.0,462.4 L875.2,360.7 L876.0,348.0 L876.3,289.4 L877.2,265.4 L879.2,265.2 L881.2,265.0 L883.2,264.9 L885.2,264.7 L887.2,264.5 L889.2,264.3 L891.2,264.2 L893.2,263.9 L894.7,263.5 L894.7,287.5 L895.0,349.9 L895.8,363.2 L896.0,469.5 L896.8,489.4 L897.0,918.0 L898.0,928.0 L899.0,918.0 L899.2,488.4 L900.0,468.4 L900.2,361.8 L901.0,348.5 L901.3,285.9 L901.3,261.9 L903.3,261.8 L905.3,261.7 L907.3,261.6 L909.3,261.5 L911.3,261.4 L913.3,261.3 L915.3,261.1 L917.3,261.0 L918.8,261.0 L919.7,285.0 L920.0,347.1 L920.8,360.3 L921.0,466.2 L921.8,486.1 L922.0,913.1 L923.0,923.0 L924.0,913.1 L924.2,486.1 L925.0,466.2 L925.2,360.3 L926.0,347.1 L926.3,285.0 L927.2,261.0 L929.2,261.0 L931.2,261.0 L933.2,261.0 L935.2,261.0 L937.2,261.0 L939.2,261.0 L941.2,261.0 L943.2,261.0 L944.7,261.0 L944.7,285.0 L945.0,344.1 L945.8,356.9 L946.0,459.1 L946.8,478.3 L947.0,890.4 L948.0,900.0 L949.0,890.4 L949.2,478.3 L950.0,459.1 L950.2,356.9 L951.0,344.1 L951.3,285.0 L951.3,261.0 L953.3,261.0 L955.3,261.0 L957.3,261.0 L959.3,261.0 L961.3,261.0 L963.3,261.0 L965.3,261.0 L967.3,261.0 L969.8,261.0 L970.7,285.0 L971.0,344.8 L971.8,357.7 L972.0,460.8 L972.8,480.1 L973.0,895.8 L974.0,905.5 L975.0,895.8 L975.2,480.1 L976.0,460.8 L976.2,357.7 L977.0,344.8 L977.3,285.0 L978.2,261.0 L980.2,261.0 L982.2,261.0 L984.2,261.0 L986.2,261.0 L988.2,261.0 L990.2,261.0 L992.2,261.0 L994.7,261.0 L994.7,285.0 L995.0,342.5 L995.8,355.1 L996.0,455.4 L996.8,474.2 L997.0,878.6 L998.0,888.0 L999.0,878.6 L999.2,474.1 L1000.0,455.3 L1000.2,355.0 L1001.0,342.5 L1001.3,284.9 L1001.3,260.9 L1003.3,260.8 L1005.3,260.7 L1007.3,260.6 L1009.3,260.5 L1011.3,260.4 L1013.3,260.3 L1015.3,260.2 L1017.3,260.1 L1019.8,260.0 L1020.7,284.0 L1021.0,343.5 L1021.8,356.3 L1022.0,459.0 L1022.8,478.3 L1023.0,892.4 L1024.0,902.0 L1025.0,892.4 L1025.2,477.8 L1026.0,458.6 L1026.2,355.7 L1027.0,342.9 L1027.3,283.3 L1028.2,259.3 L1030.2,259.2 L1032.2,259.0 L1034.2,258.9 L1036.2,258.7 L1038.2,258.5 L1040.2,258.4 L1042.2,258.2 L1044.2,258.1 L1044.8,258.0 L1045.7,282.0 L1046.0,341.5 L1046.8,354.3 L1047.0,457.0 L1047.8,476.3 L1048.0,890.4 L1049.0,900.0 L1050.0,890.3 L1050.2,474.9 L1051.0,455.6 L1051.2,352.5 L1052.0,339.6 L1052.3,279.9 L1053.2,255.9 L1055.2,255.7 L1057.2,255.5 L1059.2,255.3 L1061.2,255.1 L1063.2,254.9 L1065.2,254.7 L1067.2,254.5 L1069.2,254.3 L1070.7,254.1 L1070.7,278.1 L1071.0,336.7 L1071.8,349.4 L1072.0,451.1 L1072.8,470.2 L1073.0,880.0 L1074.0,889.5 L1075.0,879.9 L1075.2,468.8 L1076.0,449.6 L1076.2,347.6 L1077.0,334.9 L1077.3,276.0 L1077.3,252.0 L1079.3,252.0 L1081.3,252.0 L1083.3,252.0 L1085.3,252.0 L1087.3,252.0 L1089.3,252.0 L1091.3,252.0 L1093.3,252.0 L1095.3,252.0 L1096.7,252.0 L1096.7,276.0 L1097.0,334.3 L1097.8,346.9 L1098.0,448.2 L1098.8,467.2 L1099.0,875.5 L1100.0,885.0 L1101.0,875.5 L1101.2,467.5 L1102.0,448.5 L1102.2,347.3 L1103.0,334.6 L1103.3,276.4 L1103.3,252.4 L1105.3,252.5 L1107.3,252.6 L1109.3,252.7 L1111.3,252.9 L1113.3,253.0 L1115.3,253.1 L1117.3,253.2 L1119.3,253.3 L1120.8,253.4 L1121.7,277.4 L1122.0,336.4 L1122.8,349.2 L1123.0,451.3 L1123.8,470.4 L1124.0,882.0 L1125.0,891.6 L1126.0,882.0 L1126.2,470.7 L1127.0,451.6 L1127.2,349.6 L1128.0,336.8 L1128.3,277.9 L1129.2,253.9 L1131.2,254.0 L1133.2,254.1 L1135.2,254.3 L1137.2,254.4 L1139.2,254.5 L1141.2,254.6 L1143.2,254.7 L1145.2,254.8 L1146.7,254.9 L1146.7,278.9 L1147.0,340.7 L1147.8,353.9 L1148.0,459.5 L1148.8,479.4 L1149.0,905.1 L1150.0,915.0 L1151.0,905.1 L1151.2,479.6 L1152.0,459.8 L1152.2,354.2 L1153.0,341.0 L1153.3,279.2 L1153.3,255.2 L1155.3,255.3 L1157.3,255.4 L1159.3,255.5 L1161.3,255.6 L1163.3,255.7 L1165.3,255.8 L1167.3,255.9 L1169.3,256.0 L1171.3,256.0 L1172.7,256.1 L1172.7,280.1 L1173.0,340.6 L1173.8,353.6 L1174.0,457.7 L1174.8,477.2 L1175.0,896.8 L1176.0,906.6 L1177.0,896.8 L1177.2,477.3 L1178.0,457.8 L1178.2,353.7 L1179.0,340.7 L1179.3,280.2 L1179.3,256.2 L1181.3,256.2 L1183.3,256.3 L1185.3,256.3 L1187.3,256.3 L1189.3,256.4 L1191.3,256.4 L1193.3,256.5 L1195.3,256.5 L1197.3,256.5 L1198.7,256.6 L1198.7,280.6 L1199.0,339.4 L1199.8,352.1 L1200.0,454.1 L1200.8,473.2 L1201.0,884.1 L1202.0,893.7 L1203.0,884.1 L1203.2,473.3 L1204.0,454.2 L1204.2,352.2 L1205.0,339.5 L1205.3,280.7 L1205.3,256.7 L1207.3,256.7 L1209.3,256.8 L1211.3,256.8 L1213.3,256.8 L1215.3,256.9 L1217.3,256.9 L1219.3,256.9 L1221.3,257.0 L1223.7,257.0 L1223.7,281.0 L1224.0,340.9 L1224.8,353.8 L1225.0,456.9 L1225.8,476.3 L1226.0,892.3 L1227.0,902.0 L1228.0,892.3 L1228.2,476.3 L1229.0,456.9 L1229.2,353.8 L1230.0,340.9 L1230.3,281.0 L1230.3,257.0 L1232.3,257.0 L1234.3,257.0 L1236.3,257.0 L1238.3,257.0 L1240.3,257.0 L1242.3,257.0 L1244.3,257.0 L1246.3,257.0 L1248.3,257.0 L1249.7,257.1 L1249.7,281.1 L1250.0,342.6 L1250.8,355.8 L1251.0,461.1 L1251.8,480.8 L1252.0,905.1 L1253.0,915.0 L1254.0,905.1 L1254.2,481.1 L1255.0,461.4 L1255.2,356.2 L1256.0,343.1 L1256.3,281.6 L1256.3,257.6 L1258.3,257.8 L1260.3,257.9 L1262.3,258.1 L1264.3,258.2 L1266.3,258.4 L1268.3,258.5 L1270.3,258.7 L1272.3,258.8 L1274.7,259.0 L1274.7,283.0 L1275.0,344.4 L1275.8,357.5 L1276.0,462.7 L1276.8,482.4 L1277.0,906.1 L1278.0,916.0 L1279.0,906.2 L1279.2,482.9 L1280.0,463.2 L1280.2,358.3 L1281.0,345.1 L1281.3,283.8 L1281.3,259.8 L1283.3,260.1 L1285.3,260.4 L1287.3,260.6 L1289.3,260.9 L1291.3,261.3 L1293.3,261.7 L1295.3,262.1 L1297.3,262.5 L1299.3,262.9 L1301.3,263.0 L1301.5,263.0 L1303.0,975.0 M1365.0,975.0 L1366.5,206.1 L1368.5,206.6 L1370.5,207.0 L1372.5,207.4 L1374.5,207.9 L1376.5,208.7 L1378.5,209.6 L1380.5,210.5 L1382.5,211.5 L1384.5,212.4 L1385.8,213.0 L1386.7,237.0 L1387.0,292.8 L1387.8,305.0 L1388.0,403.2 L1388.8,421.6 L1389.0,817.5 L1390.0,826.7 L1391.0,817.5 L1391.2,423.0 L1392.0,404.6 L1392.2,306.7 L1393.0,294.5 L1393.3,239.0 L1394.2,215.0 L1396.2,215.3 L1398.2,215.6 L1400.2,216.0 L1402.2,216.3 L1404.2,216.6 L1406.2,216.9 L1408.2,217.2 L1410.2,217.6 L1411.8,217.8 L1412.7,241.8 L1413.0,298.2 L1413.8,310.5 L1414.0,409.4 L1414.8,428.0 L1415.0,826.7 L1416.0,836.0 L1417.0,826.7 L1417.2,428.7 L1418.0,410.2 L1418.2,311.4 L1419.0,299.1 L1419.3,242.9 L1420.2,218.9 L1422.2,219.1 L1424.2,219.3 L1426.2,219.6 L1428.2,219.8 L1430.2,220.1 L1432.2,220.3 L1434.2,220.5 L1436.2,220.8 L1438.7,221.7 L1438.7,245.7 L1439.0,300.8 L1439.8,313.0 L1440.0,410.4 L1440.8,428.7 L1441.0,821.4 L1442.0,830.5 L1443.0,821.4 L1443.2,432.3 L1444.0,414.2 L1444.2,317.6 L1445.0,305.6 L1445.3,251.1 L1445.3,227.1 L1447.3,227.4 L1449.3,227.6 L1451.3,227.8 L1453.3,228.0 L1455.3,228.3 L1457.3,228.5 L1459.3,228.7 L1461.3,228.9 L1463.3,228.9 L1464.7,228.8 L1464.7,252.8 L1465.0,306.1 L1465.8,318.0 L1466.0,413.0 L1466.8,430.9 L1467.0,814.1 L1468.0,823.0 L1469.0,814.1 L1469.2,430.6 L1470.0,412.8 L1470.2,317.6 L1471.0,305.8 L1471.3,252.5 L1471.3,228.5 L1473.3,228.3 L1475.3,228.2 L1477.3,228.1 L1479.3,228.0 L1481.3,227.9 L1483.3,227.8 L1485.3,227.7 L1487.3,227.5 L1489.3,227.5 L1490.7,227.4 L1490.7,251.4 L1491.0,305.8 L1491.8,317.9 L1492.0,414.4 L1492.8,432.5 L1493.0,821.5 L1494.0,830.5 L1495.0,821.5 L1495.2,432.4 L1496.0,414.3 L1496.2,317.8 L1497.0,305.7 L1497.3,251.3 L1497.3,227.3 L1499.3,227.3 L1501.3,227.3 L1503.3,227.2 L1505.3,227.2 L1507.3,227.1 L1509.3,227.1 L1511.3,227.1 L1513.3,227.0 L1515.3,227.0 L1516.7,226.9 L1516.7,250.9 L1517.0,305.7 L1517.8,317.8 L1518.0,414.7 L1518.8,432.8 L1519.0,823.4 L1520.0,832.5 L1521.0,823.4 L1521.2,432.7 L1522.0,414.5 L1522.2,317.5 L1523.0,305.4 L1523.3,250.7 L1523.3,226.7 L1525.3,226.6 L1527.3,226.5 L1529.3,226.4 L1531.3,226.3 L1533.3,226.3 L1535.3,226.2 L1537.3,226.1 L1539.3,226.0 L1541.3,226.4 L1542.7,226.8 L1542.7,250.8 L1543.0,304.8 L1543.8,316.8 L1544.0,412.8 L1544.8,430.8 L1545.0,818.0 L1546.0,827.0 L1547.0,818.0 L1547.2,431.7 L1548.0,413.8 L1548.2,317.9 L1549.0,306.0 L1549.3,252.1 L1549.3,228.1 L1551.3,228.2 L1553.3,228.3 L1555.3,228.4 L1557.3,228.5 L1559.3,228.6 L1561.3,228.7 L1563.3,228.8 L1565.3,228.9 L1567.8,229.0 L1568.7,253.0 L1569.0,306.9 L1569.8,318.9 L1570.0,414.9 L1570.8,432.9 L1571.0,819.6 L1572.0,828.6 L1573.0,819.6 L1573.2,432.6 L1574.0,414.5 L1574.2,318.5 L1575.0,306.5 L1575.3,252.5 L1576.2,228.5 L1578.2,228.4 L1580.2,228.3 L1582.2,228.2 L1584.2,228.1 L1586.2,227.9 L1588.2,227.8 L1590.2,227.7 L1592.2,227.6 L1593.8,227.5 L1594.7,251.5 L1595.0,306.4 L1595.8,318.5 L1596.0,415.6 L1596.8,433.9 L1597.0,825.3 L1598.0,834.4 L1599.0,825.3 L1599.2,433.3 L1600.0,415.1 L1600.2,317.9 L1601.0,305.7 L1601.3,250.7 L1602.2,226.7 L1604.2,226.5 L1606.2,226.3 L1608.2,226.1 L1610.2,225.9 L1612.2,225.8 L1614.2,225.6 L1616.2,225.4 L1618.2,225.2 L1620.7,224.9 L1620.7,248.9 L1621.0,301.8 L1621.8,313.7 L1622.0,408.4 L1622.8,426.2 L1623.0,808.1 L1624.0,817.0 L1625.0,808.1 L1625.2,425.4 L1626.0,407.6 L1626.2,312.7 L1627.0,300.8 L1627.3,247.6 L1627.3,223.6 L1629.3,223.3 L1631.3,222.9 L1633.3,222.5 L1635.3,222.2 L1637.3,221.8 L1639.3,221.4 L1641.3,221.1 L1643.3,220.7 L1645.8,220.2 L1646.7,244.2 L1647.0,287.6 L1647.8,297.9 L1648.0,380.9 L1648.8,396.4 L1649.0,730.6 L1650.0,738.4 L1651.0,730.8 L1651.2,403.1 L1652.0,387.9 L1652.2,306.6 L1653.0,296.4 L1653.3,254.4 L1654.2,230.4 L1656.2,226.0 L1658.2,221.6 L1660.2,217.2 L1662.2,212.8 L1664.2,213.6 L1666.2,218.0 L1668.2,222.4 L1670.2,226.8 L1672.2,231.2 L1672.8,232.6 L1673.7,256.6 L1674.0,297.3 L1674.8,307.3 L1675.0,387.0 L1675.8,401.9 L1676.0,723.2 L1677.0,730.7 L1678.0,723.0 L1678.2,391.7 L1679.0,376.2 L1679.2,294.1 L1680.0,283.8 L1680.3,241.0 L1681.2,217.0 L1683.2,217.0 L1685.2,217.0 L1687.2,217.0 L1689.2,217.0 L1691.2,217.0 L1693.2,217.0 L1695.2,217.0 L1697.2,217.0 L1698.7,217.0 L1698.7,241.0 L1699.0,292.7 L1699.8,304.3 L1700.0,397.4 L1700.8,414.9 L1701.0,790.3 L1702.0,799.0 L1703.0,790.2 L1703.2,410.2 L1704.0,392.6 L1704.2,298.3 L1705.0,286.5 L1705.3,234.0 L1705.3,210.0 L1707.3,209.8 L1709.3,209.6 L1711.3,209.4 L1713.3,209.2 L1715.3,209.0 L1717.3,208.8 L1719.3,208.6 L1721.3,208.4 L1723.3,208.2 L1725.8,207.5 L1726.7,231.5 L1727.0,283.9 L1727.8,295.6 L1728.0,389.6 L1728.8,407.3 L1729.0,786.2 L1730.0,795.0 L1731.0,786.1 L1731.2,405.5 L1732.0,387.8 L1732.2,293.3 L1733.0,281.5 L1733.3,228.8 L1734.2,204.8 L1736.2,204.7 L1738.2,204.6 L1740.2,204.5 L1742.2,204.4 L1744.2,204.4 L1746.2,204.3 L1748.2,204.2 L1750.2,204.1 L1752.7,203.3 L1752.7,227.3 L1753.0,278.9 L1753.8,290.5 L1754.0,383.5 L1754.8,400.9 L1755.0,775.8 L1756.0,784.5 L1757.0,775.7 L1757.2,397.4 L1758.0,379.8 L1758.2,285.9 L1759.0,274.2 L1759.3,222.0 L1759.3,198.0 L1761.3,197.9 L1763.3,197.9 L1765.3,197.8 L1767.3,197.8 L1769.3,197.7 L1771.3,197.7 L1773.3,197.7 L1775.3,197.6 L1777.3,197.6 L1778.7,197.5 L1778.7,221.5 L1779.0,276.8 L1779.8,289.0 L1780.0,386.5 L1780.8,404.7 L1781.0,797.9 L1782.0,807.0 L1783.0,797.9 L1783.2,404.7 L1784.0,386.4 L1784.2,288.8 L1785.0,276.6 L1785.3,221.4 L1785.3,197.4 L1787.3,197.4 L1789.3,197.3 L1791.3,197.3 L1793.3,197.2 L1795.3,197.2 L1797.3,197.2 L1799.3,197.1 L1801.3,197.1 L1803.3,197.1 L1804.7,197.0 L1804.7,221.0 L1805.0,277.6 L1805.8,290.0 L1806.0,389.2 L1806.8,407.8 L1807.0,807.7 L1808.0,817.0 L1809.0,807.7 L1809.2,407.9 L1810.0,389.3 L1810.2,290.1 L1811.0,277.7 L1811.3,221.1 L1811.3,197.1 L1813.3,197.1 L1815.3,197.2 L1817.3,197.2 L1819.3,197.2 L1821.3,197.3 L1823.3,197.3 L1825.3,197.4 L1827.3,197.4 L1829.3,197.4 L1830.7,197.5 L1830.7,221.5 L1831.0,277.3 L1831.8,289.6 L1832.0,388.0 L1832.8,406.4 L1833.0,802.8 L1834.0,812.0 L1835.0,802.8 L1835.2,406.9 L1836.0,388.5 L1836.2,290.3 L1837.0,278.1 L1837.3,222.3 L1837.3,198.3 L1839.3,198.6 L1841.3,199.0 L1843.3,199.4 L1845.3,199.7 L1847.3,200.1 L1849.3,200.4 L1851.3,200.8 L1853.3,201.2 L1855.3,201.5 L1857.3,201.9 L1858.7,202.7 L1858.7,226.7 L1859.0,283.2 L1859.8,295.6 L1860.0,394.7 L1860.8,413.3 L1861.0,812.7 L1862.0,822.0 L1863.0,812.8 L1863.2,415.5 L1864.0,397.1 L1864.2,298.5 L1865.0,286.2 L1865.3,230.1 L1865.3,206.1 L1867.3,206.2 L1869.3,206.3 L1871.3,206.4 L1873.3,206.5 L1875.3,206.6 L1877.3,206.7 L1879.3,206.8 L1881.3,206.8 L1883.3,206.9 L1884.7,207.0 L1884.7,231.0 L1885.0,286.0 L1885.8,298.2 L1886.0,395.5 L1886.8,413.7 L1887.0,805.9 L1888.0,815.0 L1889.0,805.9 L1889.2,413.6 L1890.0,395.3 L1890.2,298.0 L1891.0,285.8 L1891.3,230.8 L1891.3,206.8 L1893.3,206.7 L1895.3,206.6 L1897.3,206.5 L1899.3,206.5 L1901.3,206.4 L1903.3,206.3 L1905.3,206.2 L1907.3,206.2 L1909.3,206.1 L1910.7,206.0 L1910.7,230.0 L1911.0,285.7 L1911.8,298.0 L1912.0,396.1 L1912.8,414.5 L1913.0,809.8 L1914.0,819.0 L1915.0,809.8 L1915.2,413.8 L1916.0,395.4 L1916.2,297.1 L1917.0,284.9 L1917.3,229.1 L1917.3,205.1 L1919.3,204.7 L1921.3,204.3 L1923.3,204.0 L1925.3,203.6 L1927.3,203.3 L1929.3,202.9 L1931.3,202.6 L1933.3,202.2 L1935.3,201.8 L1937.3,201.5 L1938.7,201.2 L1938.7,225.2 L1939.0,280.6 L1939.8,292.8 L1940.0,390.6 L1940.8,408.9 L1941.0,802.8 L1942.0,812.0 L1943.0,802.8 L1943.2,408.0 L1944.0,389.7 L1944.2,291.7 L1945.0,279.5 L1945.3,223.9 L1945.3,199.9 L1947.3,199.5 L1949.3,199.1 L1951.3,198.7 L1953.3,198.3 L1955.3,197.9 L1957.3,197.5 L1959.3,197.1 L1961.3,196.9 L1963.3,196.8 L1964.7,196.7 L1964.7,220.7 L1965.0,277.3 L1965.8,289.7 L1966.0,389.0 L1966.8,407.6 L1967.0,807.7 L1968.0,817.0 L1969.0,807.7 L1969.2,407.3 L1970.0,388.7 L1970.2,289.4 L1971.0,276.9 L1971.3,220.2 L1971.3,196.2 L1973.3,196.1 L1975.3,196.0 L1977.3,195.8 L1979.3,195.7 L1981.3,195.6 L1983.3,195.4 L1985.3,195.3 L1987.3,195.2 L1989.3,195.0 L1991.7,194.9 L1991.7,218.9 L1992.0,274.8 L1992.8,287.0 L1993.0,385.3 L1993.8,403.7 L1994.0,799.8 L1995.0,809.0 L1996.0,799.8 L1996.2,403.6 L1997.0,385.1 L1997.2,286.8 L1998.0,274.6 L1998.3,218.7 L1998.3,194.7 L2000.3,194.6 L2002.3,194.6 L2004.3,194.5 L2006.3,194.4 L2008.3,194.3 L2010.3,194.3 L2012.3,194.2 L2014.3,194.1 L2016.3,194.1 L2018.7,194.0 L2018.7,218.0 L2019.0,272.4 L2019.8,284.4 L2020.0,380.9 L2020.8,399.0 L2021.0,788.0 L2022.0,797.0 L2023.0,788.0 L2023.2,398.8 L2024.0,380.8 L2024.2,284.2 L2025.0,272.2 L2025.3,217.7 L2025.3,193.7 L2027.3,193.7 L2029.3,193.6 L2031.3,193.5 L2033.3,193.5 L2035.3,193.4 L2037.3,193.3 L2039.3,193.2 L2041.3,193.2 L2043.3,193.1 L2044.7,193.0 L2044.7,217.0 L2045.0,264.9 L2045.8,275.9 L2046.0,364.3 L2046.8,380.9 L2047.0,737.2 L2048.0,745.5 L2049.0,737.2 L2049.2,380.4 L2050.0,363.9 L2050.2,275.4 L2051.0,264.3 L2051.3,216.4 L2051.3,192.4 L2053.3,192.2 L2055.3,191.9 L2057.3,191.7 L2059.3,191.5 L2061.3,191.2 L2063.3,191.0 L2065.3,190.8 L2067.3,190.5 L2069.3,190.3 L2071.8,190.0 L2072.7,214.0 L2073.0,262.8 L2073.8,274.0 L2074.0,363.6 L2074.8,380.4 L2075.0,741.6 L2076.0,750.0 L2077.0,741.6 L2077.2,379.6 L2078.0,362.8 L2078.2,273.0 L2079.0,261.8 L2079.3,212.8 L2080.2,188.8 L2082.2,188.5 L2084.2,188.3 L2086.2,188.0 L2088.2,187.7 L2090.2,187.4 L2092.2,187.1 L2094.2,186.8 L2096.2,186.5 L2098.7,186.2 L2098.7,210.2 L2099.0,258.4 L2099.8,269.6 L2100.0,358.5 L2100.8,375.2 L2101.0,733.7 L2102.0,742.0 L2103.0,733.7 L2103.2,374.8 L2104.0,358.1 L2104.2,269.1 L2105.0,257.9 L2105.3,209.6 L2105.3,185.6 L2107.3,185.5 L2109.3,185.3 L2111.3,185.2 L2113.3,185.0 L2115.3,184.9 L2117.3,184.7 L2119.3,184.6 L2121.3,184.4 L2123.3,184.3 L2125.8,184.1 L2126.7,208.1 L2127.0,256.4 L2127.8,267.5 L2128.0,356.4 L2128.8,373.1 L2129.0,731.7 L2130.0,740.0 L2131.0,731.7 L2131.2,373.0 L2132.0,356.4 L2132.2,267.4 L2133.0,256.3 L2133.3,208.0 L2134.2,184.0 L2136.2,184.0 L2138.2,184.0 L2140.2,184.0 L2142.2,184.0 L2144.2,184.0 L2146.2,184.0 L2148.2,184.0 L2150.2,184.0 L2152.7,184.0 L2152.7,208.0 L2153.0,255.9 L2153.8,266.9 L2154.0,355.4 L2154.8,372.0 L2155.0,728.7 L2156.0,737.0 L2157.0,728.7 L2157.2,372.1 L2158.0,355.5 L2158.2,267.1 L2159.0,256.0 L2159.3,208.2 L2159.3,184.2 L2161.3,184.3 L2163.3,184.3 L2165.3,184.4 L2167.3,184.5 L2169.3,184.6 L2171.3,184.7 L2173.3,184.7 L2175.3,184.8 L2177.3,184.9 L2179.8,185.0 L2180.7,209.0 L2181.0,259.0 L2181.8,270.3 L2182.0,361.4 L2182.8,378.5 L2183.0,745.5 L2184.0,754.0 L2185.0,745.5 L2185.2,378.9 L2186.0,361.8 L2186.2,270.9 L2187.0,259.5 L2187.3,209.6 L2188.2,185.6 L2190.2,185.8 L2192.2,185.9 L2194.2,186.1 L2196.2,186.2 L2198.2,186.3 L2200.2,186.5 L2202.2,186.6 L2204.2,186.8 L2206.2,186.9 L2206.8,187.0 L2207.7,211.0 L2208.0,259.3 L2208.8,270.4 L2209.0,359.3 L2209.8,376.0 L2210.0,734.7 L2211.0,743.0 L2212.0,734.7 L2212.2,376.4 L2213.0,359.8 L2213.2,270.9 L2214.0,259.8 L2214.3,211.6 L2215.2,187.6 L2217.2,187.7 L2219.2,187.9 L2221.2,188.0 L2223.2,188.2 L2225.2,188.3 L2227.2,188.4 L2229.2,188.6 L2231.2,188.7 L2233.2,188.9 L2234.7,189.0 L2234.7,213.0 L2235.0,261.8 L2235.8,273.0 L2236.0,362.6 L2236.8,379.4 L2237.0,740.6 L2238.0,749.0 L2239.0,740.6 L2239.2,379.2 L2240.0,362.4 L2240.2,272.8 L2241.0,261.6 L2241.3,212.8 L2241.3,188.8 L2243.3,188.7 L2245.3,188.6 L2247.3,188.5 L2249.3,188.5 L2251.3,188.4 L2253.3,188.3 L2255.3,188.2 L2257.3,188.2 L2259.3,188.1 L2261.3,188.0 L2262.7,188.0 L2262.7,212.0 L2263.0,258.7 L2263.8,269.5 L2264.0,356.5 L2264.8,372.8 L2265.0,723.4 L2266.0,731.6 L2267.0,723.4 L2267.2,372.8 L2268.0,356.5 L2268.2,269.5 L2269.0,258.7 L2269.3,212.0 L2269.3,188.0 L2271.3,188.0 L2273.3,188.0 L2275.3,188.0 L2277.3,188.0 L2279.3,188.0 L2281.3,188.0 L2283.3,188.0 L2285.3,188.0 L2287.3,188.0 L2288.7,188.0 L2288.7,212.0 L2289.0,258.9 L2289.8,269.8 L2290.0,356.9 L2290.8,373.3 L2291.0,724.8 L2292.0,733.0 L2293.0,724.8 L2293.2,373.5 L2294.0,357.2 L2294.2,270.1 L2295.0,259.2 L2295.3,212.4 L2295.3,188.4 L2297.3,188.5 L2299.3,188.7 L2301.3,188.8 L2303.3,189.0 L2305.3,189.1 L2307.3,189.2 L2309.3,189.4 L2311.3,189.5 L2313.3,189.7 L2315.3,189.8 L2316.7,189.9 L2316.7,213.9 L2317.0,261.0 L2317.8,271.9 L2318.0,359.3 L2318.8,375.7 L2319.0,728.2 L2320.0,736.4 L2321.0,728.2 L2321.2,376.2 L2322.0,359.8 L2322.2,272.5 L2323.0,261.5 L2323.3,214.6 L2323.3,190.6 L2325.3,190.8 L2327.3,191.0 L2329.3,191.3 L2331.3,191.5 L2333.3,191.7 L2335.3,191.9 L2337.3,192.1 L2339.3,192.4 L2341.3,192.6 L2343.8,192.9 L2344.7,216.9 L2345.0,263.7 L2345.8,274.6 L2346.0,361.8 L2346.8,378.1 L2347.0,729.5 L2348.0,737.7 L2349.0,729.6 L2349.2,380.4 L2350.0,364.1 L2350.2,277.5 L2351.0,266.7 L2351.3,220.3 L2352.2,196.3 L2354.2,195.1 L2356.2,193.9 L2358.2,192.7 L2360.2,191.5 L2362.2,190.3 L2364.2,189.1 L2366.2,187.9 L2368.2,186.7 L2370.7,185.2 L2370.7,209.2 L2371.0,256.3 L2371.8,267.2 L2372.0,354.7 L2372.8,371.1 L2373.0,723.8 L2374.0,732.0 L2375.0,723.7 L2375.2,368.2 L2376.0,351.7 L2376.2,263.5 L2377.0,252.5 L2377.3,204.8 L2377.3,180.8 L2379.3,179.5 L2381.3,177.8 L2383.3,175.9 L2385.3,174.0 L2387.3,172.1 L2389.3,170.2 L2391.3,168.4 L2393.3,166.5 L2395.3,164.6 L2397.3,162.8 L2398.7,162.1 L2398.7,186.1 L2399.0,235.8 L2399.8,247.1 L2400.0,337.8 L2400.8,354.8 L2401.0,720.5 L2402.0,729.0 L2403.0,720.4 L2403.2,352.4 L2404.0,335.3 L2404.2,244.0 L2405.0,232.6 L2405.3,182.4 L2405.3,158.4 L2407.3,157.3 L2409.3,156.3 L2411.3,155.3 L2413.3,155.0 L2415.3,155.0 L2417.3,155.0 L2419.3,155.0 L2421.3,156.1 L2423.3,157.8 L2425.3,159.4 L2427.3,160.0 L2427.5,160.0 L2429.0,975.0" stroke="#00dd00"/>
<path d="M307.5,975.0 L309.0,348.0 L311.0,347.3 L313.0,346.7 L315.0,346.0 L317.0,345.3 L319.0,344.7 L321.0,344.0 L323.0,343.3 L325.0,342.7 L326.8,342.1 L327.7,366.1 L328.0,424.3 L328.8,437.0 L329.0,538.3 L329.8,557.3 L330.0,965.5 L331.0,975.0 L332.0,965.4 L332.2,553.2 L333.0,534.0 L333.2,431.7 L334.0,418.9 L334.3,359.8 L335.2,335.8 L337.2,334.2 L339.2,332.5 L341.2,330.9 L343.2,329.2 L345.2,327.6 L347.2,326.0 L349.2,324.3 L351.2,322.7 L351.8,322.2 L352.7,346.2 L353.0,401.3 L353.8,413.5 L354.0,510.9 L354.8,529.2 L355.0,921.9 L356.0,931.0 L357.0,921.7 L357.2,523.9 L358.0,505.4 L358.2,406.7 L359.0,394.4 L359.3,338.2 L360.2,314.2 L362.2,313.5 L364.2,312.8 L366.2,312.1 L368.2,311.4 L370.2,310.6 L372.2,309.9 L374.2,309.2 L376.7,308.3 L376.7,332.3 L377.0,386.6 L377.8,398.7 L378.0,495.1 L378.8,513.2 L379.0,902.0 L380.0,911.0 L381.0,901.9 L381.2,511.7 L382.0,493.5 L382.2,396.7 L383.0,384.6 L383.3,330.0 L383.3,306.0 L385.3,305.7 L387.3,305.5 L389.3,305.3 L391.3,305.0 L393.3,304.8 L395.3,304.6 L397.3,304.3 L399.3,304.1 L400.7,303.5 L400.7,327.5 L401.0,381.7 L401.8,393.8 L402.0,490.0 L402.8,508.0 L403.0,896.0 L404.0,905.0 L405.0,895.9 L405.2,505.6 L406.0,487.5 L406.2,390.6 L407.0,378.5 L407.3,323.9 L407.3,299.9 L409.3,299.7 L411.3,299.4 L413.3,299.2 L415.3,299.0 L417.3,298.8 L419.3,298.6 L421.3,298.4 L423.3,298.2 L425.7,297.6 L425.7,321.6 L426.0,377.4 L426.8,389.7 L427.0,487.8 L427.8,506.2 L428.0,901.8 L429.0,911.0 L430.0,901.8 L430.2,504.3 L431.0,485.9 L431.2,387.3 L432.0,375.0 L432.3,318.9 L432.3,294.9 L434.3,294.7 L436.3,294.4 L438.3,294.2 L440.3,294.0 L442.3,293.8 L444.3,293.6 L446.3,293.4 L448.8,293.1 L449.7,317.1 L450.0,376.0 L450.8,388.8 L451.0,490.9 L451.8,510.0 L452.0,921.4 L453.0,931.0 L454.0,921.4 L454.2,509.7 L455.0,490.6 L455.2,388.5 L456.0,375.7 L456.3,316.7 L457.2,292.7 L459.2,292.6 L461.2,292.6 L463.2,292.5 L465.2,292.4 L467.2,292.3 L469.2,292.2 L471.2,292.2 L473.2,292.1 L474.7,292.0 L474.7,316.0 L475.0,372.0 L475.8,384.3 L476.0,482.7 L476.8,501.1 L477.0,897.8 L478.0,907.0 L479.0,897.8 L479.2,501.1 L480.0,482.6 L480.2,384.2 L481.0,371.9 L481.3,316.0 L481.3,292.0 L483.3,292.0 L485.3,292.0 L487.3,292.0 L489.3,292.0 L491.3,292.0 L493.3,292.0 L495.3,292.0 L497.3,292.0 L498.7,292.4 L498.7,316.4 L499.0,371.7 L499.8,383.9 L500.0,481.7 L500.8,500.0 L501.0,893.8 L502.0,903.0 L503.0,893.9 L503.2,501.9 L504.0,483.7 L504.2,386.4 L505.0,374.3 L505.3,319.3 L505.3,295.3 L507.3,295.7 L509.3,296.2 L511.3,296.6 L513.3,297.1 L515.3,297.5 L517.3,298.0 L519.3,298.4 L521.8,299.0 L522.7,323.0 L523.0,380.1 L523.8,392.6 L524.0,492.4 L524.8,511.1 L525.0,913.6 L526.0,923.0 L527.0,913.7 L527.2,515.4 L528.0,496.9 L528.2,398.1 L529.0,385.7 L529.3,329.5 L530.2,305.5 L532.2,305.9 L534.2,306.3 L536.2,306.7 L538.2,307.1 L540.2,307.6 L542.2,308.0 L544.2,308.4 L546.2,308.8 L547.7,309.5 L547.7,333.5 L548.0,396.0 L548.8,409.3 L549.0,515.8 L549.8,535.7 L550.0,965.0 L551.0,975.0 L552.0,965.1 L552.2,538.2 L553.0,518.3 L553.2,412.4 L554.0,399.2 L554.3,337.2 L554.3,313.2 L556.3,313.4 L558.3,313.6 L560.3,313.9 L562.3,314.1 L564.3,314.3 L566.3,314.6 L568.3,314.8 L570.3,315.0 L571.8,315.1 L572.7,339.1 L573.0,400.9 L573.8,414.1 L574.0,519.6 L574.8,539.4 L575.0,965.1 L576.0,975.0 L577.0,965.1 L577.2,539.7 L578.0,519.9 L578.2,414.3 L579.0,401.2 L579.3,339.4 L580.2,315.4 L582.2,315.5 L584.2,315.6 L586.2,315.6 L588.2,315.7 L590.2,315.8 L592.2,315.9 L594.2,316.0 L596.7,318.0 L596.7,342.0 L597.0,397.5 L597.8,409.8 L598.0,507.6 L598.8,525.9 L599.0,920.3 L600.0,929.5 L601.0,920.4 L601.2,528.9 L602.0,510.7 L602.2,413.5 L603.0,401.4 L603.3,346.5 L603.3,322.5 L605.3,322.8 L607.3,323.1 L609.3,323.4 L611.3,323.7 L613.3,324.0 L615.3,324.3 L617.3,324.6 L619.8,325.0 L620.7,349.0 L621.0,409.5 L621.8,422.5 L622.0,526.5 L622.8,546.0 L623.0,965.2 L624.0,975.0 L625.0,965.3 L625.2,546.2 L626.0,526.7 L626.2,422.8 L627.0,409.8 L627.3,349.3 L628.2,325.3 L630.2,325.4 L632.2,325.5 L634.2,325.6 L636.2,325.6 L638.2,325.7 L640.2,325.8 L642.2,325.9 L644.2,326.0 L644.8,326.0 L645.7,350.0 L646.0,410.4 L646.8,423.3 L647.0,527.2 L647.8,546.7 L648.0,965.3 L649.0,975.0 L650.0,965.2 L650.2,545.8 L651.0,526.3 L651.2,422.2 L652.0,409.2 L652.3,348.7 L653.2,324.7 L655.2,324.4 L657.2,324.0 L659.2,323.7 L661.2,323.4 L663.2,323.1 L665.2,322.8 L667.2,322.4 L669.2,322.1 L670.7,321.9 L670.7,345.9 L671.0,406.8 L671.8,419.9 L672.0,524.4 L672.8,544.0 L673.0,965.2 L674.0,975.0 L675.0,965.2 L675.2,543.6 L676.0,524.0 L676.2,419.5 L677.0,406.4 L677.3,345.4 L677.3,321.4 L679.3,321.3 L681.3,321.1 L683.3,320.9 L685.3,320.8 L687.3,320.6 L689.3,320.5 L691.3,320.3 L693.3,320.1 L695.7,319.9 L695.7,343.9 L696.0,405.0 L696.8,418.1 L697.0,523.0 L697.8,542.6 L698.0,965.2 L699.0,975.0 L700.0,965.2 L700.2,541.7 L701.0,522.0 L701.2,417.0 L702.0,403.9 L702.3,342.5 L702.3,318.5 L704.3,318.1 L706.3,317.7 L708.3,317.3 L710.3,316.9 L712.3,316.5 L714.3,316.1 L716.3,315.7 L718.3,315.3 L719.7,315.1 L719.7,339.1 L720.0,400.9 L720.8,414.1 L721.0,519.6 L721.8,539.4 L722.0,965.1 L723.0,975.0 L724.0,965.0 L724.2,536.0 L725.0,516.0 L725.2,409.6 L726.0,396.3 L726.3,333.8 L726.3,309.8 L728.3,309.5 L730.3,309.2 L732.3,308.9 L734.3,308.6 L736.3,308.3 L738.3,308.0 L740.3,307.7 L742.3,307.4 L744.7,307.0 L744.7,331.0 L745.0,393.9 L745.8,407.2 L746.0,514.1 L746.8,534.1 L747.0,965.0 L748.0,975.0 L749.0,965.0 L749.2,533.4 L750.0,513.3 L750.2,406.2 L751.0,392.9 L751.3,329.9 L751.3,305.9 L753.3,305.7 L755.3,305.5 L757.3,305.3 L759.3,305.1 L761.3,304.9 L763.3,304.7 L765.3,304.5 L767.3,304.3 L768.8,304.1 L769.7,328.1 L770.0,391.3 L770.8,404.8 L771.0,512.1 L771.8,532.2 L772.0,964.9 L773.0,975.0 L774.0,964.9 L774.2,531.8 L775.0,511.6 L775.2,404.2 L776.0,390.7 L776.3,327.4 L777.2,303.4 L779.2,303.3 L781.2,303.1 L783.2,302.9 L785.2,302.8 L787.2,302.6 L789.2,302.5 L791.2,302.3 L793.2,302.1 L793.8,302.1 L794.7,326.1 L795.0,389.6 L795.8,403.0 L796.0,510.7 L796.8,530.9 L797.0,964.9 L798.0,975.0 L799.0,964.9 L799.2,530.4 L800.0,510.2 L800.2,402.5 L801.0,389.0 L801.3,325.4 L802.2,301.4 L804.2,301.3 L806.2,301.1 L808.2,300.9 L810.2,300.8 L812.2,300.6 L814.2,300.5 L816.2,300.3 L817.8,300.2 L818.7,324.2 L819.0,369.2 L819.8,379.8 L820.0,464.7 L820.8,480.7 L821.0,823.0 L822.0,831.0 L823.0,823.2 L823.2,489.4 L824.0,473.9 L824.2,391.1 L825.0,380.8 L825.3,337.5 L826.2,313.5 L828.2,308.3 L830.2,303.1 L832.2,297.9 L834.2,292.7 L836.2,288.5 L838.2,293.7 L840.2,298.9 L842.2,304.1 L843.8,308.3 L844.7,332.3 L845.0,379.2 L845.8,390.1 L846.0,477.5 L846.8,493.8 L847.0,845.8 L848.0,854.0 L849.0,845.6 L849.2,485.8 L850.0,469.1 L850.2,379.8 L851.0,368.6 L851.3,320.1 L852.2,296.1 L854.2,296.2 L856.2,296.3 L858.2,296.4 L860.2,296.5 L862.2,296.6 L864.2,296.7 L866.2,296.8 L868.2,296.9 L868.8,296.9 L869.7,320.9 L870.0,375.9 L870.8,388.0 L871.0,485.1 L871.8,503.3 L872.0,894.9 L873.0,904.0 L874.0,894.9 L874.2,502.3 L875.0,484.1 L875.2,386.7 L876.0,374.5 L876.3,319.4 L877.2,295.4 L879.2,295.0 L881.2,294.6 L883.2,294.1 L885.2,293.7 L887.2,293.3 L889.2,292.8 L891.2,292.4 L893.2,292.0 L894.7,291.7 L894.7,315.7 L895.0,374.8 L895.8,387.6 L896.0,489.9 L896.8,509.1 L897.0,921.4 L898.0,931.0 L899.0,921.4 L899.2,508.4 L900.0,489.2 L900.2,386.7 L901.0,373.9 L901.3,314.7 L901.3,290.7 L903.3,290.4 L905.3,290.0 L907.3,289.7 L909.3,289.4 L911.3,289.1 L913.3,288.8 L915.3,288.4 L917.3,288.1 L918.8,287.9 L919.7,311.9 L920.0,370.9 L920.8,383.6 L921.0,485.7 L921.8,504.9 L922.0,916.4 L923.0,926.0 L924.0,916.4 L924.2,504.4 L925.0,485.3 L925.2,383.0 L926.0,370.3 L926.3,311.2 L927.2,287.2 L929.2,287.1 L931.2,286.9 L933.2,286.7 L935.2,286.6 L937.2,286.4 L939.2,286.2 L941.2,286.1 L943.2,286.0 L944.7,285.9 L944.7,309.9 L945.0,365.6 L945.8,377.9 L946.0,476.0 L946.8,494.4 L947.0,889.8 L948.0,899.0 L949.0,889.8 L949.2,494.2 L950.0,475.8 L950.2,377.6 L951.0,365.4 L951.3,309.6 L951.3,285.6 L953.3,285.6 L955.3,285.5 L957.3,285.4 L959.3,285.3 L961.3,285.3 L963.3,285.2 L965.3,285.1 L967.3,285.0 L969.8,285.0 L970.7,309.0 L971.0,366.1 L971.8,378.5 L972.0,478.3 L972.8,497.0 L973.0,899.1 L974.0,908.5 L975.0,899.1 L975.2,497.0 L976.0,478.3 L976.2,378.5 L977.0,366.1 L977.3,309.0 L978.2,285.0 L980.2,285.0 L982.2,285.0 L984.2,285.0 L986.2,285.0 L988.2,285.0 L990.2,285.0 L992.2,285.0 L994.7,285.0 L994.7,309.0 L995.0,363.8 L995.8,375.9 L996.0,472.9 L996.8,491.0 L997.0,881.9 L998.0,891.0 L999.0,881.9 L999.2,490.9 L1000.0,472.7 L1000.2,375.7 L1001.0,363.6 L1001.3,308.7 L1001.3,284.7 L1003.3,284.7 L1005.3,284.6 L1007.3,284.5 L1009.3,284.4 L1011.3,284.3 L1013.3,284.3 L1015.3,284.2 L1017.3,284.1 L1019.8,284.0 L1020.7,308.0 L1021.0,364.7 L1021.8,377.2 L1022.0,476.5 L1022.8,495.1 L1023.0,895.7 L1024.0,905.0 L1025.0,895.7 L1025.2,494.7 L1026.0,476.1 L1026.2,376.6 L1027.0,364.2 L1027.3,307.3 L1028.2,283.3 L1030.2,283.2 L1032.2,283.0 L1034.2,282.9 L1036.2,282.7 L1038.2,282.5 L1040.2,282.4 L1042.2,282.2 L1044.2,282.1 L1044.8,282.0 L1045.7,306.0 L1046.0,362.7 L1046.8,375.2 L1047.0,474.5 L1047.8,493.2 L1048.0,893.7 L1049.0,903.0 L1050.0,893.6 L1050.2,491.1 L1051.0,472.4 L1051.2,372.5 L1052.0,360.1 L1052.3,302.9 L1053.2,278.9 L1055.2,278.8 L1057.2,278.7 L1059.2,278.6 L1061.2,278.5 L1063.2,278.4 L1065.2,278.3 L1067.2,278.2 L1069.2,278.1 L1070.7,278.1 L1070.7,302.1 L1071.0,357.9 L1071.8,370.2 L1072.0,468.5 L1072.8,487.0 L1073.0,883.3 L1074.0,892.5 L1075.0,883.3 L1075.2,486.8 L1076.0,468.3 L1076.2,370.0 L1077.0,357.7 L1077.3,301.8 L1077.3,277.8 L1079.3,277.7 L1081.3,277.6 L1083.3,277.5 L1085.3,277.5 L1087.3,277.4 L1089.3,277.3 L1091.3,277.2 L1093.3,277.1 L1095.3,277.1 L1096.7,277.0 L1096.7,301.0 L1097.0,356.4 L1097.8,368.7 L1098.0,466.4 L1098.8,484.7 L1099.0,878.8 L1100.0,888.0 L1101.0,878.8 L1101.2,484.7 L1102.0,466.4 L1102.2,368.6 L1103.0,356.4 L1103.3,301.0 L1103.3,277.0 L1105.3,277.0 L1107.3,277.0 L1109.3,277.0 L1111.3,277.0 L1113.3,277.0 L1115.3,277.0 L1117.3,277.0 L1119.3,277.0 L1120.8,277.0 L1121.7,301.0 L1122.0,357.3 L1122.8,369.6 L1123.0,468.5 L1123.8,487.0 L1124.0,885.3 L1125.0,894.6 L1126.0,885.3 L1126.2,486.8 L1127.0,468.3 L1127.2,369.4 L1128.0,357.0 L1128.3,300.7 L1129.2,276.7 L1131.2,276.6 L1133.2,276.6 L1135.2,276.5 L1137.2,276.4 L1139.2,276.3 L1141.2,276.3 L1143.2,276.2 L1145.2,276.1 L1146.7,276.1 L1146.7,300.1 L1147.0,359.5 L1147.8,372.3 L1148.0,475.1 L1148.8,494.3 L1149.0,908.4 L1150.0,918.0 L1151.0,908.4 L1151.2,494.8 L1152.0,475.6 L1152.2,373.0 L1153.0,360.2 L1153.3,300.8 L1153.3,276.8 L1155.3,277.2 L1157.3,277.5 L1159.3,277.8 L1161.3,278.1 L1163.3,278.4 L1165.3,278.8 L1167.3,279.1 L1169.3,279.4 L1171.3,279.6 L1172.7,279.7 L1172.7,303.7 L1173.0,361.6 L1173.8,374.2 L1174.0,475.0 L1174.8,493.9 L1175.0,900.2 L1176.0,909.6 L1177.0,900.2 L1177.2,494.2 L1178.0,475.3 L1178.2,374.6 L1179.0,362.1 L1179.3,304.2 L1179.3,280.2 L1181.3,280.4 L1183.3,280.6 L1185.3,280.7 L1187.3,280.9 L1189.3,281.0 L1191.3,281.2 L1193.3,281.4 L1195.3,281.5 L1197.3,281.4 L1198.7,281.3 L1198.7,305.3 L1199.0,361.3 L1199.8,373.6 L1200.0,472.1 L1200.8,490.5 L1201.0,887.5 L1202.0,896.7 L1203.0,887.5 L1203.2,490.3 L1204.0,471.8 L1204.2,373.3 L1205.0,361.0 L1205.3,304.9 L1205.3,280.9 L1207.3,280.8 L1209.3,280.7 L1211.3,280.6 L1213.3,280.5 L1215.3,280.4 L1217.3,280.3 L1219.3,280.1 L1221.3,280.0 L1223.7,280.0 L1223.7,304.0 L1224.0,361.2 L1224.8,373.8 L1225.0,473.8 L1225.8,492.5 L1226.0,895.6 L1227.0,905.0 L1228.0,895.6 L1228.2,492.5 L1229.0,473.8 L1229.2,373.8 L1230.0,361.2 L1230.3,304.0 L1230.3,280.0 L1232.3,280.0 L1234.3,280.0 L1236.3,280.0 L1238.3,280.0 L1240.3,280.0 L1242.3,280.0 L1244.3,280.0 L1246.3,280.0 L1248.3,280.1 L1249.7,280.7 L1249.7,304.7 L1250.0,363.5 L1250.8,376.3 L1251.0,478.2 L1251.8,497.4 L1252.0,908.4 L1253.0,918.0 L1254.0,908.5 L1254.2,499.1 L1255.0,480.1 L1255.2,378.5 L1256.0,365.8 L1256.3,307.3 L1256.3,283.3 L1258.3,284.0 L1260.3,284.1 L1262.3,284.3 L1264.3,284.4 L1266.3,284.5 L1268.3,284.6 L1270.3,284.7 L1272.3,284.8 L1274.7,285.0 L1274.7,309.0 L1275.0,367.4 L1275.8,380.1 L1276.0,481.5 L1276.8,500.5 L1277.0,909.5 L1278.0,919.0 L1279.0,909.5 L1279.2,500.9 L1280.0,481.9 L1280.2,380.5 L1281.0,367.9 L1281.3,309.5 L1281.3,285.5 L1283.3,285.7 L1285.3,285.8 L1287.3,286.0 L1289.3,286.1 L1291.3,286.3 L1293.3,286.5 L1295.3,286.6 L1297.3,286.8 L1299.3,286.9 L1301.3,287.0 L1301.5,287.0 L1303.0,975.0 M1365.0,975.0 L1366.5,243.2 L1368.5,243.8 L1370.5,244.5 L1372.5,245.2 L1374.5,245.8 L1376.5,246.7 L1378.5,247.6 L1380.5,248.5 L1382.5,249.5 L1384.5,250.4 L1385.8,251.0 L1386.7,275.0 L1387.0,326.2 L1387.8,337.8 L1388.0,430.4 L1388.8,447.7 L1389.0,821.0 L1390.0,829.7 L1391.0,821.0 L1391.2,449.1 L1392.0,431.8 L1392.2,339.5 L1393.0,328.0 L1393.3,277.0 L1394.2,253.0 L1396.2,253.3 L1398.2,253.6 L1400.2,254.0 L1402.2,254.3 L1404.2,254.6 L1406.2,254.9 L1408.2,255.2 L1410.2,255.6 L1411.8,255.8 L1412.7,279.8 L1413.0,331.6 L1413.8,343.3 L1414.0,436.6 L1414.8,454.1 L1415.0,830.3 L1416.0,839.0 L1417.0,830.3 L1417.2,455.0 L1418.0,437.5 L1418.2,344.4 L1419.0,332.8 L1419.3,281.2 L1420.2,257.2 L1422.2,257.5 L1424.2,257.8 L1426.2,258.1 L1428.2,258.4 L1430.2,258.8 L1432.2,259.1 L1434.2,259.4 L1436.2,259.7 L1438.7,260.6 L1438.7,284.6 L1439.0,335.1 L1439.8,346.5 L1440.0,438.2 L1440.8,455.4 L1441.0,824.9 L1442.0,833.5 L1443.0,825.0 L1443.2,458.3 L1444.0,441.3 L1444.2,350.3 L1445.0,339.0 L1445.3,289.1 L1445.3,265.1 L1447.3,265.2 L1449.3,265.3 L1451.3,265.4 L1453.3,265.5 L1455.3,265.6 L1457.3,265.7 L1459.3,265.9 L1461.3,266.0 L1463.3,266.0 L1464.7,265.9 L1464.7,289.9 L1465.0,338.8 L1465.8,350.0 L1466.0,439.6 L1466.8,456.4 L1467.0,817.6 L1468.0,826.0 L1469.0,817.6 L1469.2,456.3 L1470.0,439.5 L1470.2,349.8 L1471.0,338.6 L1471.3,289.8 L1471.3,265.8 L1473.3,265.8 L1475.3,265.7 L1477.3,265.7 L1479.3,265.7 L1481.3,265.6 L1483.3,265.6 L1485.3,265.6 L1487.3,265.5 L1489.3,265.4 L1490.7,265.4 L1490.7,289.4 L1491.0,339.2 L1491.8,350.6 L1492.0,441.5 L1492.8,458.5 L1493.0,825.0 L1494.0,833.5 L1495.0,825.0 L1495.2,458.3 L1496.0,441.2 L1496.2,350.3 L1497.0,338.9 L1497.3,289.0 L1497.3,265.0 L1499.3,264.9 L1501.3,264.8 L1503.3,264.6 L1505.3,264.5 L1507.3,264.4 L1509.3,264.3 L1511.3,264.2 L1513.3,264.1 L1515.3,264.0 L1516.7,263.8 L1516.7,287.8 L1517.0,338.1 L1517.8,349.6 L1518.0,441.0 L1518.8,458.2 L1519.0,826.9 L1520.0,835.5 L1521.0,826.9 L1521.2,457.7 L1522.0,440.5 L1522.2,348.9 L1523.0,337.4 L1523.3,287.0 L1523.3,263.0 L1525.3,262.8 L1527.3,262.5 L1529.3,262.3 L1531.3,262.0 L1533.3,261.8 L1535.3,261.6 L1537.3,261.3 L1539.3,261.1 L1541.3,261.4 L1542.7,261.8 L1542.7,285.8 L1543.0,335.6 L1543.8,347.0 L1544.0,437.9 L1544.8,455.0 L1545.0,821.5 L1546.0,830.0 L1547.0,821.5 L1547.2,455.9 L1548.0,438.8 L1548.2,348.1 L1549.0,336.8 L1549.3,287.1 L1549.3,263.1 L1551.3,263.2 L1553.3,263.3 L1555.3,263.4 L1557.3,263.5 L1559.3,263.6 L1561.3,263.7 L1563.3,263.8 L1565.3,263.9 L1567.8,264.0 L1568.7,288.0 L1569.0,337.8 L1569.8,349.1 L1570.0,439.9 L1570.8,457.0 L1571.0,823.1 L1572.0,831.6 L1573.0,823.1 L1573.2,456.4 L1574.0,439.3 L1574.2,348.3 L1575.0,337.0 L1575.3,287.1 L1576.2,263.1 L1578.2,262.8 L1580.2,262.6 L1582.2,262.4 L1584.2,262.1 L1586.2,261.9 L1588.2,261.7 L1590.2,261.4 L1592.2,261.2 L1593.8,261.0 L1594.7,285.0 L1595.0,336.0 L1595.8,347.5 L1596.0,439.7 L1596.8,457.0 L1597.0,828.8 L1598.0,837.4 L1599.0,828.7 L1599.2,455.9 L1600.0,438.6 L1600.2,346.1 L1601.0,334.6 L1601.3,283.4 L1602.2,259.4 L1604.2,259.0 L1606.2,258.7 L1608.2,258.3 L1610.2,257.9 L1612.2,257.5 L1614.2,257.1 L1616.2,256.7 L1618.2,256.3 L1620.7,255.9 L1620.7,279.9 L1621.0,329.2 L1621.8,340.5 L1622.0,430.8 L1622.8,447.7 L1623.0,811.5 L1624.0,820.0 L1625.0,811.5 L1625.2,447.0 L1626.0,430.1 L1626.2,339.7 L1627.0,328.4 L1627.3,278.9 L1627.3,254.9 L1629.3,254.6 L1631.3,254.3 L1633.3,254.0 L1635.3,253.7 L1637.3,253.4 L1639.3,253.1 L1641.3,252.8 L1643.3,252.5 L1645.8,252.2 L1646.7,276.2 L1647.0,315.8 L1647.8,325.6 L1648.0,403.8 L1648.8,418.5 L1649.0,734.1 L1650.0,741.4 L1651.0,734.2 L1651.2,424.9 L1652.0,410.5 L1652.2,333.8 L1653.0,324.2 L1653.3,285.9 L1654.2,261.9 L1656.2,256.7 L1658.2,251.5 L1660.2,246.3 L1662.2,241.1 L1664.2,242.1 L1666.2,247.3 L1668.2,252.5 L1670.2,257.7 L1672.2,262.9 L1672.8,264.5 L1673.7,288.5 L1674.0,325.5 L1674.8,334.9 L1675.0,409.9 L1675.8,424.0 L1676.0,726.7 L1677.0,733.7 L1678.0,726.4 L1678.2,410.5 L1679.0,395.8 L1679.2,317.5 L1680.0,307.7 L1680.3,268.0 L1681.2,244.0 L1683.2,244.0 L1685.2,244.0 L1687.2,244.0 L1689.2,244.0 L1691.2,244.0 L1693.2,244.0 L1695.2,244.0 L1697.2,244.0 L1698.7,244.0 L1698.7,268.0 L1699.0,316.5 L1699.8,327.7 L1700.0,417.0 L1700.8,433.7 L1701.0,793.6 L1702.0,802.0 L1703.0,793.5 L1703.2,429.8 L1704.0,412.8 L1704.2,322.6 L1705.0,311.3 L1705.3,262.0 L1705.3,238.0 L1707.3,237.9 L1709.3,237.8 L1711.3,237.7 L1713.3,237.6 L1715.3,237.5 L1717.3,237.4 L1719.3,237.3 L1721.3,237.2 L1723.3,237.1 L1725.8,236.0 L1726.7,260.0 L1727.0,309.1 L1727.8,320.3 L1728.0,410.2 L1728.8,427.1 L1729.0,789.6 L1730.0,798.0 L1731.0,789.5 L1731.2,423.5 L1732.0,406.5 L1732.2,315.7 L1733.0,304.4 L1733.3,254.6 L1734.2,230.6 L1736.2,230.4 L1738.2,230.3 L1740.2,230.1 L1742.2,229.9 L1744.2,229.7 L1746.2,229.5 L1748.2,229.3 L1750.2,229.2 L1752.7,228.5 L1752.7,252.5 L1753.0,301.2 L1753.8,312.4 L1754.0,401.8 L1754.8,418.6 L1755.0,779.1 L1756.0,787.5 L1757.0,779.1 L1757.2,416.2 L1758.0,399.3 L1758.2,309.3 L1759.0,298.1 L1759.3,248.9 L1759.3,224.9 L1761.3,224.8 L1763.3,224.8 L1765.3,224.7 L1767.3,224.6 L1769.3,224.5 L1771.3,224.4 L1773.3,224.3 L1775.3,224.2 L1777.3,224.1 L1778.7,224.1 L1778.7,248.1 L1779.0,300.2 L1779.8,312.0 L1780.0,405.7 L1780.8,423.3 L1781.0,801.2 L1782.0,810.0 L1783.0,801.2 L1783.2,423.1 L1784.0,405.5 L1784.2,311.7 L1785.0,300.0 L1785.3,247.8 L1785.3,223.8 L1787.3,223.7 L1789.3,223.6 L1791.3,223.6 L1793.3,223.5 L1795.3,223.4 L1797.3,223.3 L1799.3,223.3 L1801.3,223.2 L1803.3,223.1 L1804.7,223.1 L1804.7,247.1 L1805.0,300.7 L1805.8,312.6 L1806.0,408.1 L1806.8,426.0 L1807.0,811.0 L1808.0,820.0 L1809.0,811.0 L1809.2,426.1 L1810.0,408.2 L1810.2,312.7 L1811.0,300.8 L1811.3,247.2 L1811.3,223.2 L1813.3,223.3 L1815.3,223.3 L1817.3,223.4 L1819.3,223.5 L1821.3,223.6 L1823.3,223.6 L1825.3,223.7 L1827.3,223.8 L1829.3,223.9 L1830.7,223.9 L1830.7,247.9 L1831.0,300.8 L1831.8,312.6 L1832.0,407.2 L1832.8,424.9 L1833.0,806.1 L1834.0,815.0 L1835.0,806.1 L1835.2,425.3 L1836.0,407.6 L1836.2,313.1 L1837.0,301.3 L1837.3,248.5 L1837.3,224.5 L1839.3,224.8 L1841.3,225.0 L1843.3,225.2 L1845.3,225.5 L1847.3,225.7 L1849.3,226.0 L1851.3,226.2 L1853.3,226.4 L1855.3,226.7 L1857.3,226.9 L1858.7,227.0 L1858.7,251.0 L1859.0,304.7 L1859.8,316.7 L1860.0,412.4 L1860.8,430.3 L1861.0,816.0 L1862.0,825.0 L1863.0,816.0 L1863.2,430.3 L1864.0,412.4 L1864.2,316.7 L1865.0,304.7 L1865.3,251.0 L1865.3,227.0 L1867.3,227.0 L1869.3,227.0 L1871.3,227.0 L1873.3,227.0 L1875.3,227.0 L1877.3,227.0 L1879.3,227.0 L1881.3,227.0 L1883.3,227.0 L1884.7,227.0 L1884.7,251.0 L1885.0,303.8 L1885.8,315.6 L1886.0,410.2 L1886.8,427.9 L1887.0,809.1 L1888.0,818.0 L1889.0,809.1 L1889.2,427.2 L1890.0,409.4 L1890.2,314.7 L1891.0,302.8 L1891.3,249.8 L1891.3,225.8 L1893.3,225.5 L1895.3,225.1 L1897.3,224.7 L1899.3,224.4 L1901.3,224.0 L1903.3,223.6 L1905.3,223.2 L1907.3,222.9 L1909.3,222.5 L1910.7,222.2 L1910.7,246.2 L1911.0,300.2 L1911.8,312.2 L1912.0,408.2 L1912.8,426.2 L1913.0,813.0 L1914.0,822.0 L1915.0,813.0 L1915.2,425.0 L1916.0,407.0 L1916.2,310.7 L1917.0,298.7 L1917.3,244.5 L1917.3,220.5 L1919.3,219.9 L1921.3,219.3 L1923.3,218.8 L1925.3,218.2 L1927.3,217.6 L1929.3,217.1 L1931.3,216.5 L1933.3,215.9 L1935.3,215.3 L1937.3,214.8 L1938.7,214.4 L1938.7,238.4 L1939.0,292.5 L1939.8,304.5 L1940.0,400.6 L1940.8,418.6 L1941.0,806.0 L1942.0,815.0 L1943.0,806.0 L1943.2,417.8 L1944.0,399.8 L1944.2,303.5 L1945.0,291.4 L1945.3,237.2 L1945.3,213.2 L1947.3,212.9 L1949.3,212.6 L1951.3,212.3 L1953.3,212.0 L1955.3,211.7 L1957.3,211.4 L1959.3,211.1 L1961.3,210.8 L1963.3,210.6 L1964.7,210.4 L1964.7,234.4 L1965.0,289.6 L1965.8,301.8 L1966.0,399.4 L1966.8,417.6 L1967.0,810.9 L1968.0,820.0 L1969.0,810.8 L1969.2,417.1 L1970.0,398.8 L1970.2,301.1 L1971.0,288.9 L1971.3,233.5 L1971.3,209.5 L1973.3,209.2 L1975.3,209.0 L1977.3,208.7 L1979.3,208.4 L1981.3,208.2 L1983.3,207.9 L1985.3,207.6 L1987.3,207.4 L1989.3,207.1 L1991.7,207.1 L1991.7,231.1 L1992.0,285.7 L1992.8,297.8 L1993.0,394.6 L1993.8,412.7 L1994.0,802.9 L1995.0,812.0 L1996.0,802.9 L1996.2,412.9 L1997.0,394.8 L1997.2,298.0 L1998.0,285.9 L1998.3,231.3 L1998.3,207.3 L2000.3,207.4 L2002.3,207.4 L2004.3,207.5 L2006.3,207.6 L2008.3,207.7 L2010.3,207.7 L2012.3,207.8 L2014.3,207.9 L2016.3,207.9 L2018.7,207.9 L2018.7,231.9 L2019.0,284.9 L2019.8,296.8 L2020.0,391.5 L2020.8,409.2 L2021.0,791.1 L2022.0,800.0 L2023.0,791.1 L2023.2,408.9 L2024.0,391.2 L2024.2,296.4 L2025.0,284.5 L2025.3,231.5 L2025.3,207.5 L2027.3,207.3 L2029.3,207.2 L2031.3,207.1 L2033.3,206.9 L2035.3,206.8 L2037.3,206.6 L2039.3,206.5 L2041.3,206.3 L2043.3,206.2 L2044.7,206.1 L2044.7,230.1 L2045.0,275.2 L2045.8,285.8 L2046.0,370.8 L2046.8,386.8 L2047.0,729.5 L2048.0,737.5 L2049.0,729.5 L2049.2,386.3 L2050.0,370.3 L2050.2,285.2 L2051.0,274.6 L2051.3,229.4 L2051.3,205.4 L2053.3,205.2 L2055.3,204.9 L2057.3,204.7 L2059.3,204.5 L2061.3,204.2 L2063.3,204.0 L2065.3,203.8 L2067.3,203.5 L2069.3,203.3 L2071.8,203.0 L2072.7,227.0 L2073.0,271.9 L2073.8,282.5 L2074.0,367.3 L2074.8,383.2 L2075.0,725.1 L2076.0,733.0 L2077.0,725.0 L2077.2,382.2 L2078.0,366.3 L2078.2,281.3 L2079.0,270.6 L2079.3,225.5 L2080.2,201.5 L2082.2,201.2 L2084.2,200.8 L2086.2,200.5 L2088.2,200.1 L2090.2,199.8 L2092.2,199.4 L2094.2,199.0 L2096.2,198.7 L2098.7,198.2 L2098.7,222.2 L2099.0,267.2 L2099.8,277.8 L2100.0,362.8 L2100.8,378.7 L2101.0,721.0 L2102.0,729.0 L2103.0,721.0 L2103.2,378.0 L2104.0,362.1 L2104.2,277.0 L2105.0,266.3 L2105.3,221.2 L2105.3,197.2 L2107.3,196.9 L2109.3,196.6 L2111.3,196.3 L2113.3,196.0 L2115.3,195.7 L2117.3,195.4 L2119.3,195.1 L2121.3,194.8 L2123.3,194.5 L2125.8,194.2 L2126.7,218.2 L2127.0,263.8 L2127.8,274.6 L2128.0,360.3 L2128.8,376.4 L2129.0,722.0 L2130.0,730.0 L2131.0,722.0 L2131.2,376.1 L2132.0,360.0 L2132.2,274.2 L2133.0,263.5 L2133.3,217.7 L2134.2,193.7 L2136.2,193.7 L2138.2,193.6 L2140.2,193.5 L2142.2,193.5 L2144.2,193.4 L2146.2,193.3 L2148.2,193.2 L2150.2,193.2 L2152.7,193.1 L2152.7,217.1 L2153.0,262.5 L2153.8,273.2 L2154.0,358.6 L2154.8,374.6 L2155.0,719.0 L2156.0,727.0 L2157.0,719.0 L2157.2,374.6 L2158.0,358.5 L2158.2,273.1 L2159.0,262.4 L2159.3,217.0 L2159.3,193.0 L2161.3,193.0 L2163.3,193.0 L2165.3,193.0 L2167.3,193.0 L2169.3,193.0 L2171.3,193.0 L2173.3,193.0 L2175.3,193.0 L2177.3,193.0 L2179.8,193.0 L2180.7,217.0 L2181.0,262.0 L2181.8,272.6 L2182.0,357.6 L2182.8,373.5 L2183.0,716.0 L2184.0,724.0 L2185.0,716.0 L2185.2,373.9 L2186.0,358.0 L2186.2,273.2 L2187.0,262.6 L2187.3,217.6 L2188.2,193.6 L2190.2,193.8 L2192.2,193.9 L2194.2,194.1 L2196.2,194.2 L2198.2,194.3 L2200.2,194.5 L2202.2,194.6 L2204.2,194.8 L2206.2,194.9 L2206.8,195.0 L2207.7,219.0 L2208.0,263.2 L2208.8,273.7 L2209.0,357.7 L2209.8,373.5 L2210.0,712.1 L2211.0,720.0 L2212.0,712.1 L2212.2,373.5 L2213.0,357.8 L2213.2,273.8 L2214.0,263.2 L2214.3,219.0 L2215.2,195.0 L2217.2,195.0 L2219.2,195.0 L2221.2,195.0 L2223.2,195.0 L2225.2,195.0 L2227.2,195.0 L2229.2,195.0 L2231.2,195.0 L2233.2,195.0 L2234.7,195.0 L2234.7,219.0 L2235.0,263.6 L2235.8,274.2 L2236.0,358.7 L2236.8,374.5 L2237.0,715.1 L2238.0,723.0 L2239.0,715.1 L2239.2,374.4 L2240.0,358.5 L2240.2,274.0 L2241.0,263.4 L2241.3,218.8 L2241.3,194.8 L2243.3,194.7 L2245.3,194.6 L2247.3,194.5 L2249.3,194.5 L2251.3,194.4 L2253.3,194.3 L2255.3,194.2 L2257.3,194.2 L2259.3,194.1 L2261.3,194.0 L2262.7,194.0 L2262.7,218.0 L2263.0,262.2 L2263.8,272.6 L2264.0,356.6 L2264.8,372.3 L2265.0,710.7 L2266.0,718.6 L2267.0,710.7 L2267.2,372.0 L2268.0,356.3 L2268.2,272.2 L2269.0,261.7 L2269.3,217.5 L2269.3,193.5 L2271.3,193.3 L2273.3,193.2 L2275.3,193.0 L2277.3,192.9 L2279.3,192.8 L2281.3,192.6 L2283.3,192.5 L2285.3,192.3 L2287.3,192.2 L2288.7,192.1 L2288.7,216.1 L2289.0,261.1 L2289.8,271.7 L2290.0,356.7 L2290.8,372.6 L2291.0,715.0 L2292.0,723.0 L2293.0,715.0 L2293.2,372.8 L2294.0,356.9 L2294.2,272.0 L2295.0,261.4 L2295.3,216.4 L2295.3,192.4 L2297.3,192.5 L2299.3,192.7 L2301.3,192.8 L2303.3,193.0 L2305.3,193.1 L2307.3,193.2 L2309.3,193.4 L2311.3,193.5 L2313.3,193.7 L2315.3,193.8 L2316.7,193.9 L2316.7,217.9 L2317.0,262.9 L2317.8,273.5 L2318.0,358.4 L2318.8,374.3 L2319.0,716.4 L2320.0,724.4 L2321.0,716.5 L2321.2,374.9 L2322.0,359.0 L2322.2,274.2 L2323.0,263.6 L2323.3,218.8 L2323.3,194.8 L2325.3,195.1 L2327.3,195.4 L2329.3,195.7 L2331.3,196.0 L2333.3,196.3 L2335.3,196.6 L2337.3,196.9 L2339.3,197.2 L2341.3,197.5 L2343.8,197.8 L2344.7,221.8 L2345.0,267.2 L2345.8,277.9 L2346.0,363.3 L2346.8,379.3 L2347.0,723.7 L2348.0,731.7 L2349.0,723.7 L2349.2,380.4 L2350.0,364.5 L2350.2,279.3 L2351.0,268.7 L2351.3,223.5 L2352.2,199.5 L2354.2,198.6 L2356.2,197.7 L2358.2,196.8 L2360.2,195.9 L2362.2,195.0 L2364.2,194.1 L2366.2,193.2 L2368.2,192.3 L2370.7,191.1 L2370.7,215.1 L2371.0,260.3 L2371.8,270.9 L2372.0,356.0 L2372.8,372.0 L2373.0,715.0 L2374.0,723.0 L2375.0,715.0 L2375.2,369.1 L2376.0,353.0 L2376.2,267.2 L2377.0,256.5 L2377.3,210.8 L2377.3,186.8 L2379.3,185.5 L2381.3,183.7 L2383.3,181.7 L2385.3,179.7 L2387.3,177.7 L2389.3,175.7 L2391.3,173.7 L2393.3,171.7 L2395.3,169.7 L2397.3,167.7 L2398.7,166.1 L2398.7,190.1 L2399.0,237.2 L2399.8,248.1 L2400.0,335.6 L2400.8,352.1 L2401.0,704.8 L2402.0,713.0 L2403.0,704.7 L2403.2,347.2 L2404.0,330.6 L2404.2,241.9 L2405.0,230.8 L2405.3,182.8 L2405.3,158.8 L2407.3,157.3 L2409.3,156.3 L2411.3,155.3 L2413.3,155.0 L2415.3,155.0 L2417.3,155.0 L2419.3,155.0 L2421.3,156.1 L2423.3,157.8 L2425.3,159.4 L2427.3,160.0 L2427.5,160.0 L2429.0,975.0" stroke="#00bfff"/>
<path d="M2430,683 L2436,700 L2441,725 L2445,750 L2450,790" stroke="#b3b3b3"/>
<path d="M2430,720 L2433,736 L2438,745 L2441,760" stroke="#ff8000"/>
<path d="M2429.5,720 L2431,738 L2433,760" stroke="#00dd00"/>
</g></g>
<rect x="279" y="37" width="2182" height="904" fill="none" stroke="#000" stroke-width="10"/>
<rect x="628.1" y="924" width="10" height="12" fill="#000"/>
<rect x="628.1" y="42" width="10" height="10" fill="#000"/>
<rect x="1043.6" y="924" width="10" height="12" fill="#000"/>
<rect x="1043.6" y="42" width="10" height="10" fill="#000"/>
<rect x="1459.1" y="924" width="10" height="12" fill="#000"/>
<rect x="1459.1" y="42" width="10" height="10" fill="#000"/>
<rect x="1874.6" y="924" width="10" height="12" fill="#000"/>
<rect x="1874.6" y="42" width="10" height="10" fill="#000"/>
<rect x="2290.1" y="924" width="10" height="12" fill="#000"/>
<rect x="2290.1" y="42" width="10" height="10" fill="#000"/>
<rect x="420.4" y="930" width="10" height="6" fill="#000"/>
<rect x="420.4" y="42" width="10" height="5" fill="#000"/>
<rect x="835.9" y="930" width="10" height="6" fill="#000"/>
<rect x="835.9" y="42" width="10" height="5" fill="#000"/>
<rect x="1251.3" y="930" width="10" height="6" fill="#000"/>
<rect x="1251.3" y="42" width="10" height="5" fill="#000"/>
<rect x="1666.8" y="930" width="10" height="6" fill="#000"/>
<rect x="1666.8" y="42" width="10" height="5" fill="#000"/>
<rect x="2082.3" y="930" width="10" height="6" fill="#000"/>
<rect x="2082.3" y="42" width="10" height="5" fill="#000"/>
<rect x="284" y="150.1" width="12" height="10" fill="#000"/>
<rect x="2446" y="150.1" width="10" height="10" fill="#000"/>
<rect x="284" y="388.1" width="12" height="10" fill="#000"/>
<rect x="2446" y="388.1" width="10" height="10" fill="#000"/>
<rect x="284" y="626.1" width="12" height="10" fill="#000"/>
<rect x="2446" y="626.1" width="10" height="10" fill="#000"/>
<rect x="284" y="864.1" width="12" height="10" fill="#000"/>
<rect x="2446" y="864.1" width="10" height="10" fill="#000"/>
<rect x="284" y="268.1" width="6" height="10" fill="#000"/>
<rect x="2451" y="268.1" width="5" height="10" fill="#000"/>
<rect x="284" y="506.1" width="6" height="10" fill="#000"/>
<rect x="2451" y="506.1" width="5" height="10" fill="#000"/>
<rect x="284" y="744.1" width="6" height="10" fill="#000"/>
<rect x="2451" y="744.1" width="5" height="10" fill="#000"/>
<rect x="1757" y="751" width="700" height="186" fill="#fff" stroke="#000" stroke-width="2"/>
<line x1="1762" y1="803" x2="1860" y2="803" stroke="#b3b3b3" stroke-width="6"/>
<line x1="2106" y1="803" x2="2204" y2="803" stroke="#ff8000" stroke-width="6"/>
<line x1="1762" y1="891" x2="1858" y2="891" stroke="#00dd00" stroke-width="6"/>
<line x1="2108" y1="891" x2="2204" y2="891" stroke="#00bfff" stroke-width="6"/>
<text transform="translate(1873.23,826.00) scale(0.9749,1)" font-size="65" font-family="'Liberation Serif', 'DejaVu Serif', serif" font-weight="bold">Core</text>
<text transform="translate(2021.22,826.00) scale(1.1381,1)" font-size="65" font-family="'Liberation Serif', 'DejaVu Serif', serif" font-weight="bold"><tspan font-weight='normal' stroke='#000' stroke-width='0.9'>#</tspan>1</text>
<text transform="translate(2213.60,826.00) scale(0.9528,1)" font-size="65" font-family="'Liberation Serif', 'DejaVu Serif', serif" font-weight="bold">Core</text>
<text transform="translate(2360.56,826.00) scale(1.1097,1)" font-size="65" font-family="'Liberation Serif', 'DejaVu Serif', serif" font-weight="bold"><tspan font-weight='normal' stroke='#000' stroke-width='0.9'>#</tspan>2</text>
<text transform="translate(1867.86,914.00) scale(0.9665,1)" font-size="65" font-family="'Liberation Serif', 'DejaVu Serif', serif" font-weight="bold">Core</text>
<text transform="translate(2014.75,914.00) scale(1.1142,1)" font-size="65" font-family="'Liberation Serif', 'DejaVu Serif', serif" font-weight="bold"><tspan font-weight='normal' stroke='#000' stroke-width='0.9'>#</tspan>3</text>
<text transform="translate(2213.60,914.00) scale(0.9528,1)" font-size="65" font-family="'Liberation Serif', 'DejaVu Serif', serif" font-weight="bold">Core</text>
<text transform="translate(2360.52,914.00) scale(1.1378,1)" font-size="65" font-family="'Liberation Serif', 'DejaVu Serif', serif" font-weight="bold"><tspan font-weight='normal' stroke='#000' stroke-width='0.9'>#</tspan>4</text>
<text transform="translate(1018.35,1098.80) scale(1.0183,1)" font-size="93.5" font-family="'Liberation Serif', 'DejaVu Serif', serif" font-weight="bold">Wavelength</text>
<text transform="translate(1522.61,1098.80) scale(1.0413,1)" font-size="93.5" font-family="'Liberation Serif', 'DejaVu Serif', serif" font-weight="bold">(nm)</text>
<text transform="translate(104.00,939.00) rotate(-90) translate(-4.63,0) scale(1.0063,1)" font-size="92" font-family="'Liberation Serif', 'DejaVu Serif', serif" font-weight="bold">Optical</text>
<text transform="translate(104.00,626.00) rotate(-90) translate(-2.95,0) scale(1.0677,1)" font-size="92" font-family="'Liberation Serif', 'DejaVu Serif', serif" font-weight="bold">spectrum</text>
<text transform="translate(104.00,211.00) rotate(-90) translate(-3.79,0) scale(1.0290,1)" font-size="92" font-family="'Liberation Serif', 'DejaVu Serif', serif" font-weight="bold">(dB)</text>
<text transform="translate(543.19,1017.00) scale(1.1688,1)" font-size="76" font-family="'Liberation Serif', 'DejaVu Serif', serif" font-weight="bold">1540</text>
<text transform="translate(958.89,1017.00) scale(1.1688,1)" font-size="76" font-family="'Liberation Serif', 'DejaVu Serif', serif" font-weight="bold">1560</text>
<text transform="translate(1374.39,1017.00) scale(1.1688,1)" font-size="76" font-family="'Liberation Serif', 'DejaVu Serif', serif" font-weight="bold">1580</text>
<text transform="translate(1789.89,1017.00) scale(1.1688,1)" font-size="76" font-family="'Liberation Serif', 'DejaVu Serif', serif" font-weight="bold">1600</text>
<text transform="translate(2205.89,1017.00) scale(1.1688,1)" font-size="76" font-family="'Liberation Serif', 'DejaVu Serif', serif" font-weight="bold">1620</text>
<text transform="translate(223.28,175.00) scale(1.1441,1)" font-size="77" font-family="'Liberation Serif', 'DejaVu Serif', serif" font-weight="bold">0</text>
<text transform="translate(127.68,415.00) scale(1.1741,1)" font-size="77" font-family="'Liberation Serif', 'DejaVu Serif', serif" font-weight="bold"><tspan dy="3" stroke="#000" stroke-width="2.6">−</tspan><tspan dy="-3">10</tspan></text>
<text transform="translate(127.75,653.00) scale(1.1548,1)" font-size="77" font-family="'Liberation Serif', 'DejaVu Serif', serif" font-weight="bold"><tspan dy="3" stroke="#000" stroke-width="2.6">−</tspan><tspan dy="-3">20</tspan></text>
<text transform="translate(127.68,891.00) scale(1.1741,1)" font-size="77" font-family="'Liberation Serif', 'DejaVu Serif', serif" font-weight="bold"><tspan dy="3" stroke="#000" stroke-width="2.6">−</tspan><tspan dy="-3">30</tspan></text>
</svg>
</body></html>
